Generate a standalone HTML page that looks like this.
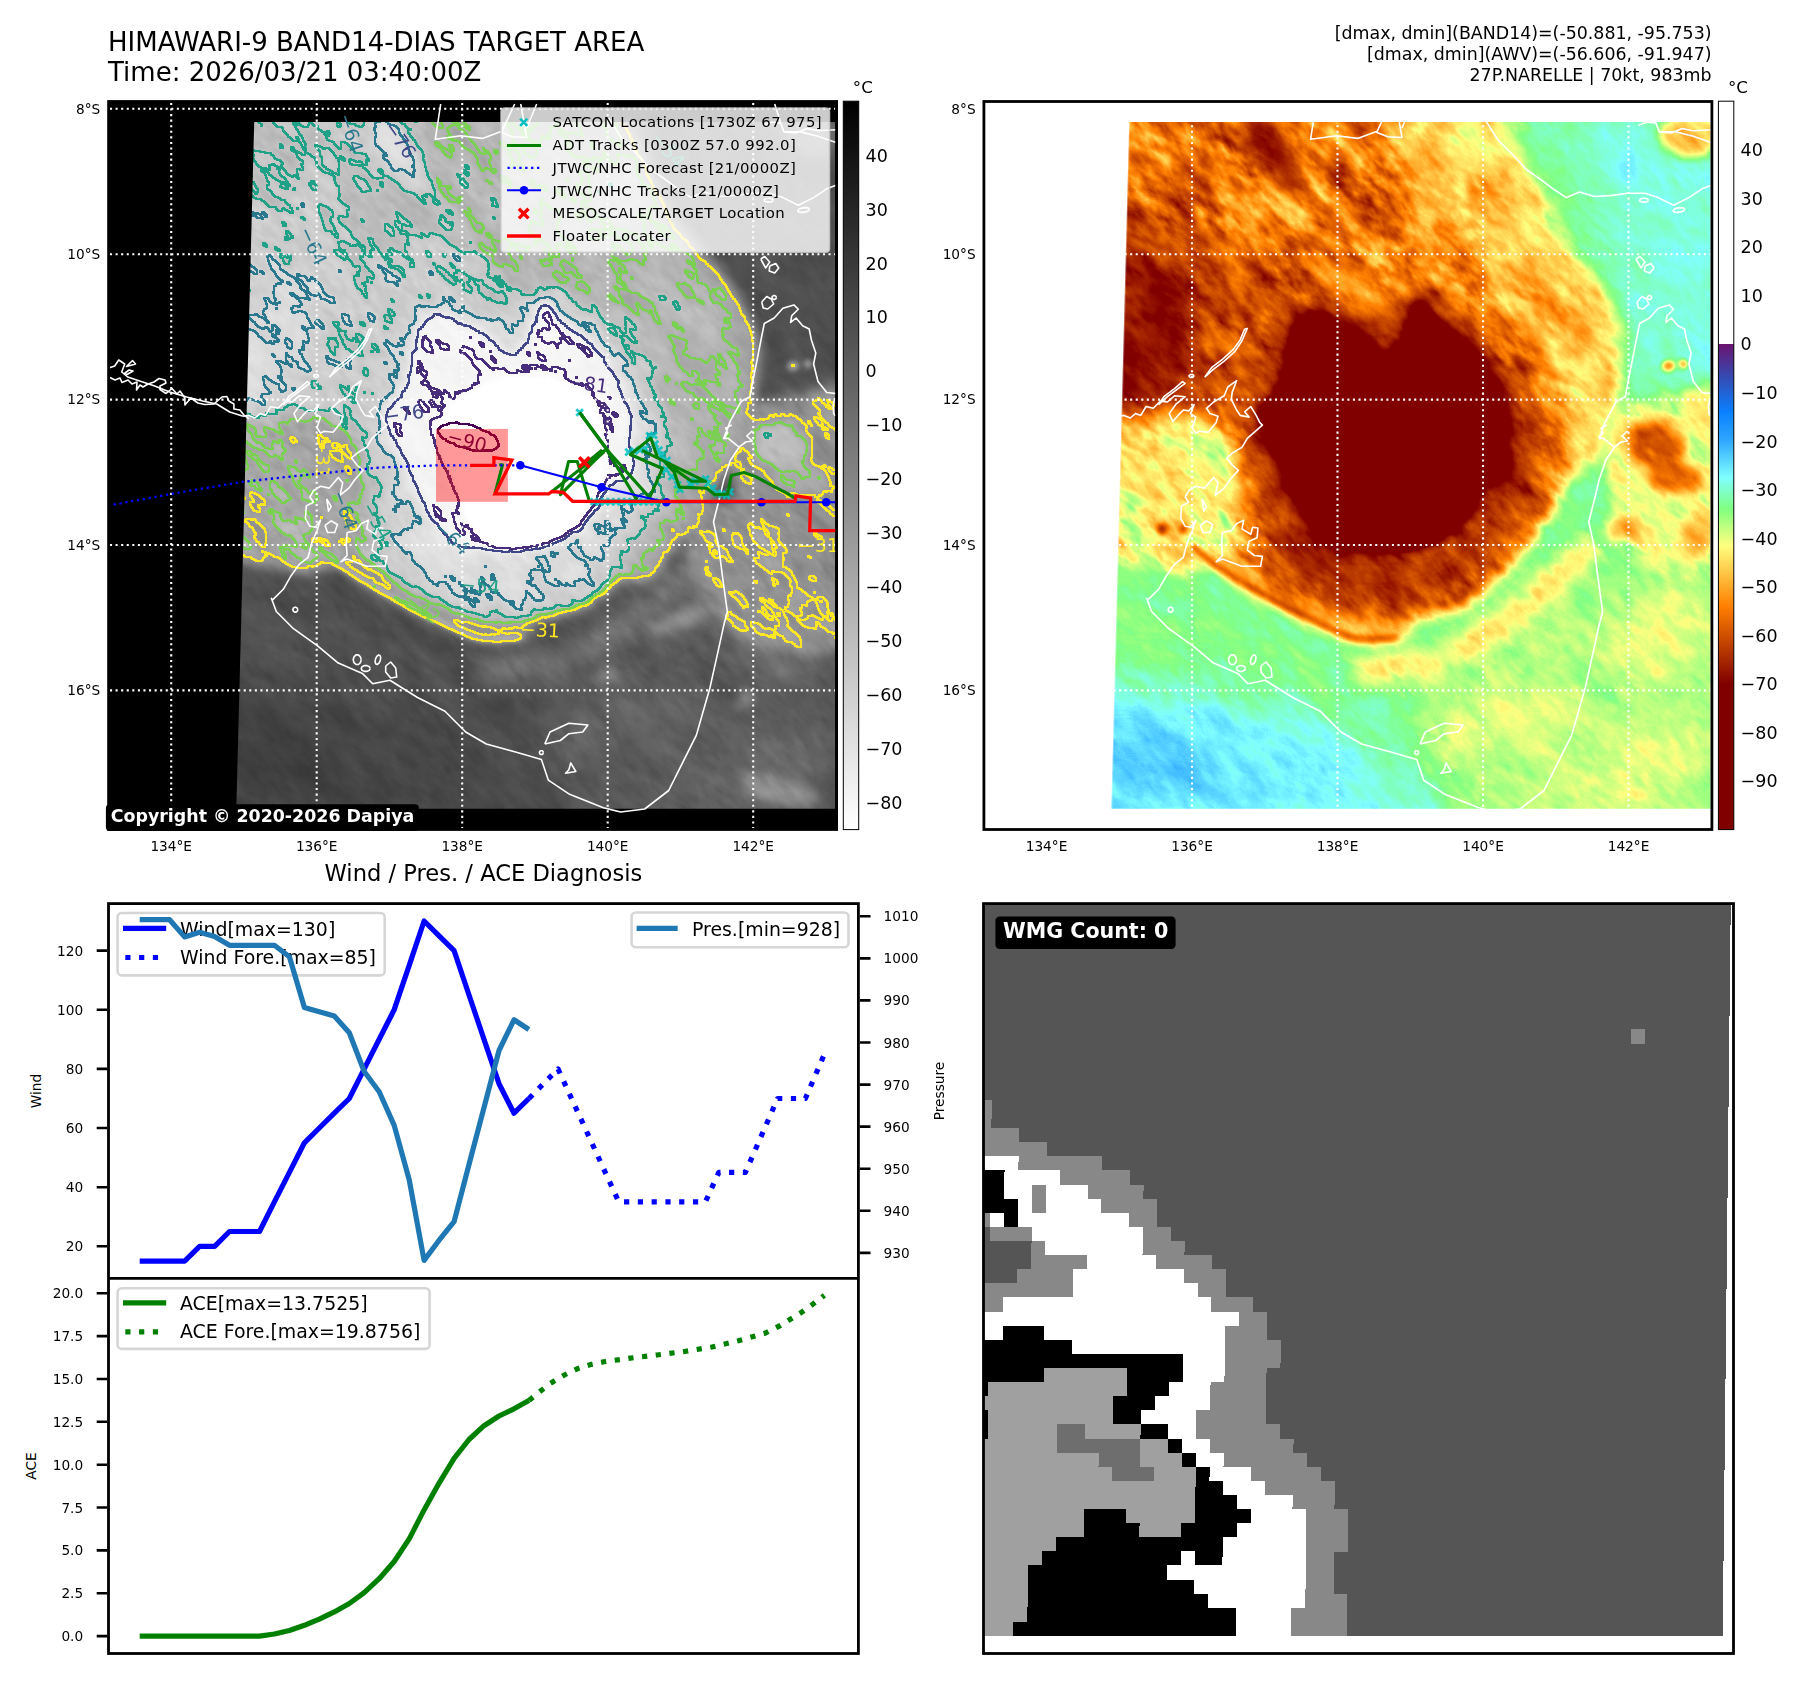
<!DOCTYPE html>
<html><head><meta charset="utf-8"><title>HIMAWARI-9 BAND14-DIAS TARGET AREA</title>
<style>html,body{margin:0;padding:0;background:#fff}svg{display:block}text{font-family:'DejaVu Sans','Liberation Sans',sans-serif}</style>
</head><body>
<svg width="1801" height="1690" viewBox="0 0 1801 1690">
<defs><filter id="blur1" x="60" y="60" width="840" height="820" filterUnits="userSpaceOnUse" color-interpolation-filters="sRGB"><feGaussianBlur stdDeviation="30"/></filter>
<filter id="blur2" x="60" y="60" width="840" height="820" filterUnits="userSpaceOnUse" color-interpolation-filters="sRGB"><feGaussianBlur stdDeviation="9"/></filter>
<filter id="blur3" x="60" y="60" width="840" height="820" filterUnits="userSpaceOnUse" color-interpolation-filters="sRGB"><feGaussianBlur stdDeviation="6"/></filter>
<filter id="blur4" x="60" y="60" width="840" height="820" filterUnits="userSpaceOnUse" color-interpolation-filters="sRGB"><feGaussianBlur stdDeviation="2.5"/></filter>
<filter id="blur5" x="60" y="60" width="840" height="820" filterUnits="userSpaceOnUse" color-interpolation-filters="sRGB"><feGaussianBlur stdDeviation="10"/></filter>
<filter id="blur6" x="60" y="60" width="840" height="820" filterUnits="userSpaceOnUse" color-interpolation-filters="sRGB"><feGaussianBlur stdDeviation="14"/></filter>
<filter id="blur7" x="60" y="60" width="840" height="820" filterUnits="userSpaceOnUse" color-interpolation-filters="sRGB"><feGaussianBlur stdDeviation="6"/></filter>
<filter id="blur8" x="60" y="60" width="840" height="820" filterUnits="userSpaceOnUse" color-interpolation-filters="sRGB"><feGaussianBlur stdDeviation="5"/></filter>
<filter id="blur9" x="60" y="60" width="840" height="820" filterUnits="userSpaceOnUse" color-interpolation-filters="sRGB"><feGaussianBlur stdDeviation="3"/></filter>
<filter id="fNoise" x="65" y="-5" width="940" height="940" filterUnits="userSpaceOnUse" color-interpolation-filters="sRGB">
<feTurbulence type="fractalNoise" baseFrequency="0.034 0.014" numOctaves="4" seed="7" result="n1"/>
<feTurbulence type="fractalNoise" baseFrequency="0.10 0.045" numOctaves="3" seed="18" result="n2"/>
<feComposite in="n1" in2="n2" operator="arithmetic" k1="0" k2="0.58" k3="0.42" k4="0" result="n"/>
<feColorMatrix in="n" type="matrix" values="1 0 0 0 0  1 0 0 0 0  1 0 0 0 0  0 0 0 0 1" result="ng"/>
<feColorMatrix in="SourceGraphic" type="matrix" values="0 1 0 0 0  0 1 0 0 0  0 1 0 0 0  0 0 0 0 1" result="amp"/>
<feColorMatrix in="SourceGraphic" type="matrix" values="1 0 0 0 0  1 0 0 0 0  1 0 0 0 0  0 0 0 0 1" result="base"/>
<feComposite in="amp" in2="ng" operator="arithmetic" k1="1" k2="0" k3="0" k4="0" result="q"/>
<feComposite in="base" in2="q" operator="arithmetic" k1="0" k2="1" k3="1" k4="0" result="F"/>
</filter>
<filter id="fIR" x="200" y="100" width="660" height="730" filterUnits="userSpaceOnUse" color-interpolation-filters="sRGB"><feComponentTransfer in="SourceGraphic" result="img"><feFuncR type="linear" slope="-0.8889" intercept="1.0741"/><feFuncG type="linear" slope="-0.8889" intercept="1.0741"/><feFuncB type="linear" slope="-0.8889" intercept="1.0741"/></feComponentTransfer>
<feColorMatrix in="SourceGraphic" type="matrix" values="0 0 0 0 0.992  0 0 0 0 0.906  0 0 0 0 0.145  -255 0 0 0 137.000" result="km31"/>
<feMorphology in="km31" operator="dilate" radius="1" result="dm31"/><feMorphology in="km31" operator="erode" radius="1" result="em31"/>
<feComposite in="dm31" in2="em31" operator="out" result="cm31"/>
<feColorMatrix in="SourceGraphic" type="matrix" values="0 0 0 0 0.478  0 0 0 0 0.820  0 0 0 0 0.318  -255 0 0 0 113.000" result="km42"/>
<feMorphology in="km42" operator="dilate" radius="1" result="dm42"/><feMorphology in="km42" operator="erode" radius="1" result="em42"/>
<feComposite in="dm42" in2="em42" operator="out" result="cm42"/>
<feColorMatrix in="SourceGraphic" type="matrix" values="0 0 0 0 0.122  0 0 0 0 0.631  0 0 0 0 0.529  -255 0 0 0 88.000" result="km54"/>
<feMorphology in="km54" operator="dilate" radius="1" result="dm54"/><feMorphology in="km54" operator="erode" radius="1" result="em54"/>
<feComposite in="dm54" in2="em54" operator="out" result="cm54"/>
<feColorMatrix in="SourceGraphic" type="matrix" values="0 0 0 0 0.165  0 0 0 0 0.471  0 0 0 0 0.557  -255 0 0 0 66.000" result="km64"/>
<feMorphology in="km64" operator="dilate" radius="1" result="dm64"/><feMorphology in="km64" operator="erode" radius="1" result="em64"/>
<feComposite in="dm64" in2="em64" operator="out" result="cm64"/>
<feColorMatrix in="SourceGraphic" type="matrix" values="0 0 0 0 0.247  0 0 0 0 0.278  0 0 0 0 0.533  -255 0 0 0 41.000" result="km76"/>
<feMorphology in="km76" operator="dilate" radius="1" result="dm76"/><feMorphology in="km76" operator="erode" radius="1" result="em76"/>
<feComposite in="dm76" in2="em76" operator="out" result="cm76"/>
<feColorMatrix in="SourceGraphic" type="matrix" values="0 0 0 0 0.278  0 0 0 0 0.176  0 0 0 0 0.482  -255 0 0 0 30.000" result="km81"/>
<feMorphology in="km81" operator="dilate" radius="1" result="dm81"/><feMorphology in="km81" operator="erode" radius="1" result="em81"/>
<feComposite in="dm81" in2="em81" operator="out" result="cm81"/>
<feColorMatrix in="SourceGraphic" type="matrix" values="0 0 0 0 0.267  0 0 0 0 0.004  0 0 0 0 0.329  -255 0 0 0 11.000" result="km90"/>
<feMorphology in="km90" operator="dilate" radius="1" result="dm90"/><feMorphology in="km90" operator="erode" radius="1" result="em90"/>
<feComposite in="dm90" in2="em90" operator="out" result="cm90"/>
<feMerge><feMergeNode in="img"/><feMergeNode in="cm31"/><feMergeNode in="cm42"/><feMergeNode in="cm54"/><feMergeNode in="cm64"/><feMergeNode in="cm76"/><feMergeNode in="cm81"/><feMergeNode in="cm90"/></feMerge></filter>
<filter id="fWV" x="200" y="100" width="660" height="730" filterUnits="userSpaceOnUse" color-interpolation-filters="sRGB"><feComponentTransfer in="SourceGraphic"><feFuncR type="table" tableValues="0.502 0.502 0.502 0.502 0.502 0.502 0.502 0.502 0.502 0.502 0.502 0.502 0.502 0.502 0.502 0.502 0.502 0.502 0.502 0.502 0.502 0.541 0.580 0.619 0.658 0.697 0.735 0.774 0.813 0.852 0.891 0.930 0.969 1.000 1.000 1.000 1.000 1.000 1.000 1.000 1.000 1.000 1.000 0.983 0.900 0.817 0.734 0.651 0.568 0.502 0.502 0.502 0.502 0.502 0.502 0.450 0.397 0.345 0.293 0.241 0.188 0.157 0.126 0.095 0.064 0.045 0.075 0.104 0.133 0.163 0.192 0.227 0.266 0.304 0.343 0.381 0.420 1.000 1.000 1.000 1.000 1.000 1.000 1.000 1.000 1.000 1.000 1.000 1.000 1.000 1.000 1.000 1.000 1.000 1.000 1.000 1.000"/><feFuncG type="table" tableValues="0.000 0.000 0.000 0.000 0.000 0.000 0.000 0.000 0.000 0.000 0.000 0.000 0.000 0.000 0.000 0.000 0.000 0.000 0.000 0.000 0.000 0.039 0.078 0.118 0.157 0.196 0.235 0.275 0.314 0.353 0.392 0.431 0.471 0.512 0.562 0.612 0.661 0.711 0.761 0.811 0.861 0.910 0.960 1.000 1.000 1.000 1.000 1.000 1.000 1.000 1.000 1.000 1.000 1.000 1.000 0.943 0.886 0.829 0.773 0.716 0.659 0.626 0.593 0.561 0.528 0.495 0.458 0.422 0.385 0.349 0.313 0.275 0.235 0.196 0.157 0.118 0.078 1.000 1.000 1.000 1.000 1.000 1.000 1.000 1.000 1.000 1.000 1.000 1.000 1.000 1.000 1.000 1.000 1.000 1.000 1.000 1.000"/><feFuncB type="table" tableValues="0.000 0.000 0.000 0.000 0.000 0.000 0.000 0.000 0.000 0.000 0.000 0.000 0.000 0.000 0.000 0.000 0.000 0.000 0.000 0.000 0.000 0.000 0.000 0.000 0.000 0.000 0.000 0.000 0.000 0.000 0.000 0.000 0.000 0.010 0.060 0.110 0.161 0.211 0.261 0.311 0.361 0.412 0.462 0.502 0.502 0.502 0.502 0.502 0.502 0.521 0.617 0.713 0.808 0.904 1.000 1.000 1.000 1.000 1.000 1.000 1.000 1.000 1.000 1.000 1.000 0.989 0.937 0.884 0.832 0.779 0.727 0.677 0.630 0.582 0.534 0.487 0.439 1.000 1.000 1.000 1.000 1.000 1.000 1.000 1.000 1.000 1.000 1.000 1.000 1.000 1.000 1.000 1.000 1.000 1.000 1.000 1.000"/></feComponentTransfer></filter>
<clipPath id="imgclip"><path d="M254.2,122.0 L835.2,122.0 L835.2,808.8 L236.3,808.8Z"/></clipPath>
<clipPath id="ax1clip"><rect x="108.6" y="101.5" width="728.0" height="728.0"/></clipPath>
<path id="coast" d="M1146.5,597.7 L1151.6,611.5 L1168.8,628.7 L1192.9,645.9 L1213.6,663.1 L1237.7,673.4 L1248.0,683.8 L1265.2,680.3 L1292.8,697.5 L1320.3,711.3 L1341.0,732.0 L1361.6,744.0 L1392.6,752.6 L1416.7,759.5 L1423.6,780.1 L1444.2,793.9 L1478.7,807.7 L1495.9,812.0 L1520.0,809.0 L1544.0,790.5 L1557.8,762.9 L1571.6,735.4 L1578.5,711.3 L1585.4,687.2 L1592.3,656.2 L1599.1,625.2 L1602.6,611.5 L1597.4,573.6 L1594.0,546.1 L1588.8,522.0 L1595.7,494.4 L1599.1,480.0 L1605.7,460.3 L1614.4,447.2 L1603.5,438.4 L1599.1,438.4 L1605.7,420.9 L1616.6,401.2 L1625.4,396.8 L1627.6,383.7 L1632.0,361.8 L1636.3,339.9 L1639.6,323.5 L1649.5,318.0 L1658.2,308.2 L1669.2,304.9 L1673.6,309.3 L1667.0,315.8 L1665.9,322.4 L1671.4,318.0 L1677.9,325.7 L1684.5,329.0 L1686.7,339.9 L1691.1,353.0 L1688.9,364.0 L1693.3,381.5 L1702.0,392.5 L1712.0,393.6 M1614.4,447.2 L1621.0,442.0 L1627.6,441.0 L1622.0,436.0 L1627.6,431.0 M1599.1,438.4 L1603.0,433.0 L1601.0,428.0 L1607.0,425.0 M1484.0,118.0 L1498.0,140.0 L1513.0,155.0 L1527.0,170.0 L1540.0,179.0 L1553.1,188.8 L1566.3,197.6 L1579.4,192.1 L1594.7,196.5 L1612.3,195.4 L1627.6,193.2 L1645.1,193.2 L1658.2,197.6 L1673.6,205.2 L1688.9,197.6 L1702.0,188.8 L1712.0,185.0 M1638.5,125.3 L1647.3,122.0 L1656.0,123.1 L1659.3,131.9 L1671.4,133.0 L1682.3,128.6 L1693.3,130.8 L1712.0,129.7 M1650.0,104.0 L1656.0,123.1 M1659.3,131.9 L1675.8,131.9 L1693.3,136.3 L1712.0,142.8 M1648.5,200.2 L1647.6,201.4 L1645.4,202.1 L1642.6,202.1 L1640.4,201.4 L1639.5,200.2 L1640.4,199.0 L1642.6,198.3 L1645.4,198.3 L1647.6,199.0 L1648.5,200.2 M1684.9,209.1 L1684.0,210.6 L1681.2,211.9 L1677.5,212.4 L1674.4,212.1 L1673.1,210.9 L1674.0,209.4 L1676.8,208.1 L1680.5,207.6 L1683.6,207.9 L1684.9,209.1 M1636.0,259.0 L1640.0,256.5 L1645.0,262.0 L1641.0,268.0 L1636.0,259.0 M1645.0,266.0 L1651.0,263.5 L1654.0,268.0 L1650.0,273.0 L1644.5,271.0 L1645.0,266.0 M1637.0,302.0 L1642.0,296.5 L1646.5,299.0 L1649.0,304.0 L1643.0,309.0 L1638.5,308.0 L1637.0,302.0 M1651.7,297.5 L1651.3,298.7 L1650.2,299.4 L1648.8,299.4 L1647.7,298.7 L1647.3,297.5 L1647.7,296.3 L1648.8,295.6 L1650.2,295.6 L1651.3,296.3 L1651.7,297.5 M1710.0,398.0 L1708.5,406.0 L1709.0,414.0 L1711.0,416.0 M1204.7,377.2 L1213.6,369.2 L1224.2,361.2 L1234.9,351.5 L1242.0,340.8 L1247.3,328.4 L1244.6,329.3 L1240.2,339.9 L1233.1,349.7 L1222.4,359.4 L1211.8,367.4 L1204.7,377.2 M1117.7,416.2 L1124.0,415.4 L1130.2,418.0 L1135.5,413.6 L1140.8,415.4 L1146.1,406.5 L1153.2,408.3 L1160.3,401.2 L1167.4,402.0 L1174.5,395.8 L1185.2,396.7 L1176.3,403.8 L1169.2,413.6 L1172.8,421.6 L1178.1,415.4 L1183.4,410.0 L1188.7,410.9 L1194.1,404.7 L1190.5,413.6 L1195.8,417.1 L1192.3,427.8 L1195.8,433.1 L1199.4,431.3 L1208.3,432.2 L1216.2,422.4 L1218.0,416.2 L1210.0,413.6 L1206.5,408.3 L1213.6,402.0 L1224.2,395.8 L1227.8,387.0 L1236.6,380.7 L1232.2,392.3 L1231.3,399.4 L1236.6,410.0 L1240.2,415.4 L1249.1,417.1 L1244.6,411.8 L1250.8,406.5 L1256.2,415.4 L1259.7,422.4 L1262.4,425.1 L1254.4,432.2 L1247.3,438.4 L1242.0,447.3 L1233.1,452.6 L1226.9,457.9 L1232.2,465.0 L1238.4,470.4 L1230.4,479.2 L1224.2,488.1 L1215.4,495.2 L1218.0,482.8 L1213.6,477.5 L1204.7,488.1 L1195.8,486.3 L1188.7,490.8 L1185.2,497.0 L1188.7,502.3 L1181.6,505.9 L1180.7,518.3 L1185.2,526.3 L1190.5,527.2 L1195.8,520.1 L1192.3,530.7 L1187.0,543.1 L1183.4,557.3 L1174.5,564.4 L1165.7,576.8 L1158.6,589.3 L1147.9,599.9 M1158.6,404.7 L1167.4,396.7 L1178.1,388.7 L1185.2,383.4 L1182.5,381.6 L1174.5,388.7 L1163.9,396.7 L1158.6,404.7 M1222.4,532.5 L1231.3,530.7 L1236.6,523.6 L1243.7,520.1 L1242.0,528.9 L1250.8,534.3 L1252.6,527.2 L1257.9,528.0 L1257.1,537.8 L1249.1,541.3 L1247.3,550.2 L1254.4,555.5 L1262.4,556.4 L1260.6,566.2 L1242.0,566.2 L1222.4,559.1 L1216.2,561.8 L1222.4,555.5 L1221.6,544.9 L1222.4,532.5 M1202.0,498.8 L1203.8,511.2 L1206.5,506.7 L1202.0,498.8 M1200.3,525.4 L1206.5,520.9 L1212.7,524.5 L1210.0,532.5 L1202.9,532.5 L1200.3,525.4 M1194.0,376.0 L1193.5,376.9 L1192.3,377.5 L1190.7,377.5 L1189.5,376.9 L1189.0,376.0 L1189.5,375.1 L1190.7,374.5 L1192.3,374.5 L1193.5,375.1 L1194.0,376.0 M1117.7,416.0 L1105.0,412.0 L1092.0,404.0 L1078.0,401.0 L1062.0,397.0 L1045.0,392.0 L1030.0,386.0 L1015.0,381.0 L1003.0,377.0 L997.0,372.0 L1000.0,364.0 L994.0,360.0 L990.0,366.0 L984.0,368.0 M1236.5,659.7 L1235.7,662.6 L1233.7,664.5 L1231.3,664.5 L1229.3,662.6 L1228.5,659.7 L1229.3,656.8 L1231.3,654.9 L1233.7,654.9 L1235.7,656.8 L1236.5,659.7 M1245.5,668.5 L1244.6,670.3 L1242.4,671.4 L1239.6,671.4 L1237.4,670.3 L1236.5,668.5 L1237.4,666.7 L1239.6,665.6 L1242.4,665.6 L1244.6,666.7 L1245.5,668.5 M1255.6,660.4 L1254.3,663.1 L1252.5,664.5 L1251.1,664.0 L1250.4,661.9 L1250.8,659.0 L1252.1,656.3 L1253.9,654.9 L1255.3,655.4 L1256.0,657.5 L1255.6,660.4 M1261.0,666.0 L1266.0,662.0 L1271.0,668.0 L1272.0,677.0 L1266.0,678.0 L1261.0,672.0 L1261.0,666.0 M1173.1,609.7 L1172.6,611.2 L1171.4,612.1 L1169.8,612.1 L1168.6,611.2 L1168.1,609.7 L1168.6,608.2 L1169.8,607.3 L1171.4,607.3 L1172.6,608.2 L1173.1,609.7 M1420.1,744.0 L1425.3,732.0 L1444.2,723.3 L1463.2,725.0 L1458.0,732.0 L1444.2,733.7 L1435.6,740.5 L1420.1,744.0 M1418.7,752.6 L1418.3,753.8 L1417.3,754.5 L1416.1,754.5 L1415.1,753.8 L1414.7,752.6 L1415.1,751.4 L1416.1,750.7 L1417.3,750.7 L1418.3,751.4 L1418.7,752.6 M1444.2,769.8 L1440.8,773.2 L1451.1,771.5 L1446.0,762.9 L1444.2,769.8 M1316.0,104.0 L1310.6,139.3 L1336.3,135.8 L1357.6,138.4 L1377.2,131.3 L1390.0,104.0 M1376.3,132.2 L1387.8,136.7 L1402.0,137.5 L1396.0,104.0 M1402.0,128.0 L1412.0,104.0" fill="none" stroke="#fff" stroke-width="1.6" stroke-linejoin="round"/>
<clipPath id="ax2clip"><rect x="983.9" y="101.5" width="728.0000000000001" height="728.0"/></clipPath>
<linearGradient id="cbGray" x1="0" y1="0" x2="0" y2="1"><stop offset="0" stop-color="#000"/><stop offset="1" stop-color="#fff"/></linearGradient>
<linearGradient id="cbCol" x1="0" y1="0" x2="0" y2="1"><stop offset="0" stop-color="#fff"/><stop offset="0.33333" stop-color="#fff"/><stop offset="0.33333" stop-color="rgb(107,20,112)"/><stop offset="0.38000" stop-color="rgb(52,76,180)"/><stop offset="0.42667" stop-color="rgb(10,128,255)"/><stop offset="0.46667" stop-color="rgb(48,168,255)"/><stop offset="0.51667" stop-color="rgb(128,255,255)"/><stop offset="0.56000" stop-color="rgb(128,255,128)"/><stop offset="0.61000" stop-color="rgb(255,255,128)"/><stop offset="0.69333" stop-color="rgb(255,128,0)"/><stop offset="0.80000" stop-color="rgb(128,0,0)"/><stop offset="1.00000" stop-color="rgb(128,0,0)"/></linearGradient>
<clipPath id="gclip"><rect x="983.5" y="903.6" width="750.0" height="749.9"/></clipPath></defs>
<rect width="1801" height="1690" fill="#fff"/>
<rect x="108.6" y="101.5" width="728.0" height="728.0" fill="#000"/>
<g clip-path="url(#imgclip)"><g filter="url(#fIR)"><g transform="rotate(-45 535 465)"><g filter="url(#fNoise)"><g transform="rotate(45 535 465)"><g>
<path d="M150.0,60.0 L900.0,60.0 L900.0,880.0 L150.0,880.0Z" fill="rgb(193,51,0)"/>
</g>
<g filter="url(#blur1)">
<ellipse cx="236.0" cy="830.0" rx="330.0" ry="130.0" fill="rgb(210,42,0)"/>
<ellipse cx="225.0" cy="815.0" rx="150.0" ry="110.0" fill="rgb(223,34,0)"/>
<ellipse cx="480.0" cy="840.0" rx="330.0" ry="60.0" fill="rgb(206,42,0)"/>
<path d="M700.0,100.0C723.3,66.7 850.0,46.7 880.0,100.0C910.0,153.3 895.0,370.0 880.0,420.0C865.0,470.0 813.3,420.0 790.0,400.0C766.7,380.0 755.0,350.0 740.0,300.0C725.0,250.0 676.7,133.3 700.0,100.0Z" fill="rgb(198,42,0)"/>
<path d="M560.0,660.0C603.3,610.0 826.7,526.7 880.0,560.0C933.3,593.3 923.3,810.0 880.0,860.0C836.7,910.0 673.3,893.3 620.0,860.0C566.7,826.7 516.7,710.0 560.0,660.0Z" fill="rgb(176,60,0)"/>
</g>
<g filter="url(#blur2)">
<path d="M490.0,672.0C498.3,670.7 524.2,667.7 540.0,664.0C555.8,660.3 570.8,656.0 585.0,650.0C599.2,644.0 612.5,636.3 625.0,628.0C637.5,619.7 649.2,609.3 660.0,600.0C670.8,590.7 682.0,580.0 690.0,572.0C698.0,564.0 705.0,555.3 708.0,552.0" fill="none" stroke="rgb(142,68,0)" stroke-width="24" stroke-linecap="round"/>
<ellipse cx="640.0" cy="720.0" rx="70.0" ry="28.0" fill="rgb(168,60,0)" transform="rotate(-10 640.0 720.0)"/>
<ellipse cx="760.0" cy="770.0" rx="60.0" ry="30.0" fill="rgb(155,68,0)" transform="rotate(-10 760.0 770.0)"/>
<ellipse cx="790.0" cy="640.0" rx="40.0" ry="50.0" fill="rgb(151,68,0)"/>
</g>
<g filter="url(#blur3)">
<path d="M200.0,90.0C266.7,35.8 532.2,84.7 600.0,90.0C667.8,95.3 601.8,110.0 607.0,122.0C612.2,134.0 623.0,149.7 631.0,162.0C639.0,174.3 647.5,182.8 655.0,196.0C662.5,209.2 667.3,228.3 676.0,241.0C684.7,253.7 697.8,259.5 707.0,272.0C716.2,284.5 725.3,302.8 731.0,316.0C736.7,329.2 739.8,339.5 741.0,351.0C742.2,362.5 740.8,373.5 738.0,385.0C735.2,396.5 728.0,408.5 724.0,420.0C720.0,431.5 716.8,447.3 714.0,454.0C711.2,460.7 711.7,453.3 707.0,460.0C702.3,466.7 692.3,483.7 686.0,494.0C679.7,504.3 675.3,512.8 669.0,522.0C662.7,531.2 655.5,540.3 648.0,549.0C640.5,557.7 632.7,565.8 624.0,574.0C615.3,582.2 605.2,591.7 596.0,598.0C586.8,604.3 579.3,608.3 569.0,612.0C558.7,615.7 547.8,618.0 534.0,620.0C520.2,622.0 500.0,625.0 486.0,624.0C472.0,623.0 460.3,617.7 450.0,614.0C439.7,610.3 432.7,606.3 424.0,602.0C415.3,597.7 406.7,593.0 398.0,588.0C389.3,583.0 380.0,577.5 372.0,572.0C364.0,566.5 356.3,560.7 350.0,555.0C343.7,549.3 334.8,547.2 334.0,538.0C333.2,528.8 347.3,516.3 345.0,500.0C342.7,483.7 330.8,453.3 320.0,440.0C309.2,426.7 292.5,424.2 280.0,420.0C267.5,415.8 258.3,415.8 245.0,415.0C231.7,414.2 207.5,469.2 200.0,415.0C192.5,360.8 133.3,144.2 200.0,90.0Z" fill="rgb(47,85,0)"/>
<path d="M322.0,540.0C325.8,543.3 336.5,553.7 345.0,560.0C353.5,566.3 364.0,572.5 373.0,578.0C382.0,583.5 390.0,588.0 399.0,593.0C408.0,598.0 418.0,603.5 427.0,608.0C436.0,612.5 444.7,616.3 453.0,620.0C461.3,623.7 469.5,627.8 477.0,630.0C484.5,632.2 490.5,632.8 498.0,633.0C505.5,633.2 518.0,631.3 522.0,631.0" fill="none" stroke="rgb(119,51,0)" stroke-width="20" stroke-linecap="round"/>
<path d="M650.0,196.0C655.0,190.3 678.0,223.7 690.0,236.0C702.0,248.3 712.3,257.0 722.0,270.0C731.7,283.0 741.7,300.5 748.0,314.0C754.3,327.5 758.5,338.3 760.0,351.0C761.5,363.7 759.5,377.7 757.0,390.0C754.5,402.3 748.7,413.7 745.0,425.0C741.3,436.3 740.5,446.2 735.0,458.0C729.5,469.8 719.0,484.5 712.0,496.0C705.0,507.5 700.0,517.0 693.0,527.0C686.0,537.0 678.0,546.8 670.0,556.0C662.0,565.2 656.7,581.3 645.0,582.0C633.3,582.7 600.8,573.7 600.0,560.0C599.2,546.3 626.7,523.3 640.0,500.0C653.3,476.7 671.7,445.0 680.0,420.0C688.3,395.0 693.3,375.0 690.0,350.0C686.7,325.0 666.7,295.7 660.0,270.0C653.3,244.3 645.0,201.7 650.0,196.0Z" fill="rgb(89,68,0)"/>
<path d="M200.0,405.0C216.7,377.5 275.8,397.5 300.0,400.0C324.2,402.5 334.7,408.3 345.0,420.0C355.3,431.7 358.7,453.3 362.0,470.0C365.3,486.7 367.8,505.0 365.0,520.0C362.2,535.0 355.8,551.3 345.0,560.0C334.2,568.7 317.5,571.7 300.0,572.0C282.5,572.3 256.7,563.2 240.0,562.0C223.3,560.8 206.7,591.2 200.0,565.0C193.3,538.8 183.3,432.5 200.0,405.0Z" fill="rgb(66,110,0)"/>
<path d="M742.0,415.0C752.8,397.5 782.0,397.5 800.0,395.0C818.0,392.5 841.7,372.5 850.0,400.0C858.3,427.5 858.3,530.8 850.0,560.0C841.7,589.2 815.0,577.5 800.0,575.0C785.0,572.5 770.8,557.5 760.0,545.0C749.2,532.5 738.0,521.7 735.0,500.0C732.0,478.3 731.2,432.5 742.0,415.0Z" fill="rgb(100,85,0)"/>
<ellipse cx="782.0" cy="445.0" rx="30.0" ry="26.0" fill="rgb(70,60,0)" transform="rotate(20 782.0 445.0)"/>
<ellipse cx="748.0" cy="528.0" rx="16.0" ry="11.0" fill="rgb(96,51,0)"/>
<ellipse cx="822.0" cy="535.0" rx="16.0" ry="22.0" fill="rgb(96,51,0)"/>
<ellipse cx="815.0" cy="135.0" rx="30.0" ry="22.0" fill="rgb(164,42,0)"/>
<ellipse cx="800.0" cy="478.0" rx="28.0" ry="14.0" fill="rgb(91,51,0)"/>
<path d="M690.0,520.0C696.7,503.3 713.3,500.0 740.0,500.0C766.7,500.0 831.7,496.7 850.0,520.0C868.3,543.3 865.0,619.2 850.0,640.0C835.0,660.8 785.0,651.7 760.0,645.0C735.0,638.3 711.7,620.8 700.0,600.0C688.3,579.2 683.3,536.7 690.0,520.0Z" fill="rgb(91,102,0)"/>
<ellipse cx="605.0" cy="676.0" rx="12.0" ry="6.0" fill="rgb(117,42,0)"/>
<ellipse cx="680.0" cy="620.0" rx="35.0" ry="9.0" fill="rgb(113,60,0)" transform="rotate(-20 680.0 620.0)"/>
<ellipse cx="780.0" cy="790.0" rx="40.0" ry="13.0" fill="rgb(108,68,0)" transform="rotate(15 780.0 790.0)"/>
<ellipse cx="745.0" cy="700.0" rx="8.0" ry="8.0" fill="rgb(121,34,0)"/>
</g>
<g filter="url(#blur4)">
<path d="M318.0,547.0C321.7,550.0 331.5,559.0 340.0,565.0C348.5,571.0 359.8,577.5 369.0,583.0C378.2,588.5 386.0,593.0 395.0,598.0C404.0,603.0 413.8,608.3 423.0,613.0C432.2,617.7 441.5,622.2 450.0,626.0C458.5,629.8 466.3,633.8 474.0,636.0C481.7,638.2 488.3,638.8 496.0,639.0C503.7,639.2 516.0,637.3 520.0,637.0" fill="none" stroke="rgb(81,42,0)" stroke-width="6" stroke-linecap="round"/>
<ellipse cx="793.0" cy="366.0" rx="6.0" ry="5.0" fill="rgb(108,26,0)"/>
<ellipse cx="808.0" cy="364.0" rx="4.0" ry="4.0" fill="rgb(113,26,0)"/>
<ellipse cx="287.0" cy="529.0" rx="5.0" ry="6.0" fill="rgb(83,26,0)"/>
<ellipse cx="308.0" cy="529.0" rx="4.0" ry="5.0" fill="rgb(87,26,0)"/>
</g>
<g filter="url(#blur5)">
<path d="M200.0,230.0C221.7,200.0 293.3,213.3 330.0,225.0C366.7,236.7 407.5,270.8 420.0,300.0C432.5,329.2 420.0,381.7 405.0,400.0C390.0,418.3 364.2,409.2 330.0,410.0C295.8,410.8 221.7,435.0 200.0,405.0C178.3,375.0 178.3,260.0 200.0,230.0Z" fill="rgb(34,85,0)"/>
<path d="M520.0,110.0C531.2,95.0 587.0,100.0 607.0,110.0C627.0,120.0 628.5,148.2 640.0,170.0C651.5,191.8 660.2,214.3 676.0,241.0C691.8,267.7 725.2,303.5 735.0,330.0C744.8,356.5 742.5,385.0 735.0,400.0C727.5,415.0 705.8,431.7 690.0,420.0C674.2,408.3 656.7,358.3 640.0,330.0C623.3,301.7 606.7,271.7 590.0,250.0C573.3,228.3 551.7,223.3 540.0,200.0C528.3,176.7 508.8,125.0 520.0,110.0Z" fill="rgb(72,68,0)"/>
<path d="M430.0,105.0C457.8,92.5 566.0,82.3 607.0,105.0C648.0,127.7 654.7,203.5 676.0,241.0C697.3,278.5 725.2,303.5 735.0,330.0C744.8,356.5 742.5,385.0 735.0,400.0C727.5,415.0 705.8,431.7 690.0,420.0C674.2,408.3 655.0,350.0 640.0,330.0C625.0,310.0 616.7,305.0 600.0,300.0C583.3,295.0 560.0,308.3 540.0,300.0C520.0,291.7 496.7,270.0 480.0,250.0C463.3,230.0 448.3,204.2 440.0,180.0C431.7,155.8 402.2,117.5 430.0,105.0Z" fill="rgb(64,85,0)"/>
<path d="M640.0,330.0C653.3,311.7 718.3,320.8 735.0,330.0C751.7,339.2 743.3,364.2 740.0,385.0C736.7,405.8 723.3,436.8 715.0,455.0C706.7,473.2 700.8,478.3 690.0,494.0C679.2,509.7 661.3,535.5 650.0,549.0C638.7,562.5 630.3,573.5 622.0,575.0C613.7,576.5 597.0,570.5 600.0,558.0C603.0,545.5 630.8,519.7 640.0,500.0C649.2,480.3 655.0,468.3 655.0,440.0C655.0,411.7 626.7,348.3 640.0,330.0Z" fill="rgb(74,68,0)"/>
<ellipse cx="262.0" cy="350.0" rx="38.0" ry="60.0" fill="rgb(36,51,0)"/>
<ellipse cx="396.0" cy="150.0" rx="14.0" ry="45.0" fill="rgb(32,26,0)" transform="rotate(-35 396.0 150.0)"/>
<ellipse cx="586.0" cy="158.0" rx="16.0" ry="30.0" fill="rgb(91,51,0)" transform="rotate(-25 586.0 158.0)"/>
</g>
<g filter="url(#blur6)">
<path d="M380.0,440.0C378.8,421.7 380.0,400.0 385.0,380.0C390.0,360.0 400.0,334.7 410.0,320.0C420.0,305.3 430.0,293.3 445.0,292.0C460.0,290.7 484.2,312.7 500.0,312.0C515.8,311.3 525.8,287.5 540.0,288.0C554.2,288.5 570.8,303.8 585.0,315.0C599.2,326.2 613.8,340.8 625.0,355.0C636.2,369.2 645.3,384.2 652.0,400.0C658.7,415.8 664.5,433.3 665.0,450.0C665.5,466.7 660.5,484.2 655.0,500.0C649.5,515.8 641.7,531.7 632.0,545.0C622.3,558.3 610.7,570.3 597.0,580.0C583.3,589.7 567.8,597.7 550.0,603.0C532.2,608.3 508.3,612.5 490.0,612.0C471.7,611.5 454.2,606.2 440.0,600.0C425.8,593.8 414.2,585.8 405.0,575.0C395.8,564.2 387.2,549.2 385.0,535.0C382.8,520.8 392.8,505.8 392.0,490.0C391.2,474.2 381.2,458.3 380.0,440.0Z" fill="rgb(36,51,0)"/>
</g>
<g filter="url(#blur7)">
<path d="M390.0,440.0C387.2,434.2 381.7,425.7 381.0,420.0C380.3,414.3 382.2,411.8 386.0,406.0C389.8,400.2 399.8,394.2 404.0,385.0C408.2,375.8 407.7,362.3 411.0,351.0C414.3,339.7 418.3,323.8 424.0,317.0C429.7,310.2 438.0,309.0 445.0,310.0C452.0,311.0 459.2,319.0 466.0,323.0C472.8,327.0 478.7,329.3 486.0,334.0C493.3,338.7 503.0,350.5 510.0,351.0C517.0,351.5 523.3,345.0 528.0,337.0C532.7,329.0 534.0,308.7 538.0,303.0C542.0,297.3 548.0,299.7 552.0,303.0C556.0,306.3 556.8,317.3 562.0,323.0C567.2,328.7 576.2,331.8 583.0,337.0C589.8,342.2 596.7,347.2 603.0,354.0C609.3,360.8 616.3,369.8 621.0,378.0C625.7,386.2 628.8,394.8 631.0,403.0C633.2,411.2 633.7,419.7 634.0,427.0C634.3,434.3 632.3,441.2 633.0,447.0C633.7,452.8 638.8,456.8 638.0,462.0C637.2,467.2 633.2,473.3 628.0,478.0C622.8,482.7 612.8,483.8 607.0,490.0C601.2,496.2 599.3,507.2 593.0,515.0C586.7,522.8 578.8,531.3 569.0,537.0C559.2,542.7 547.2,546.5 534.0,549.0C520.8,551.5 501.8,552.2 490.0,552.0C478.2,551.8 471.3,551.3 463.0,548.0C454.7,544.7 446.3,538.0 440.0,532.0C433.7,526.0 429.5,519.0 425.0,512.0C420.5,505.0 416.3,497.0 413.0,490.0C409.7,483.0 407.5,475.8 405.0,470.0C402.5,464.2 400.5,460.0 398.0,455.0C395.5,450.0 392.8,445.8 390.0,440.0Z" fill="rgb(21,21,0)"/>
</g>
<g filter="url(#blur8)">
<path d="M445.0,420.0C449.3,410.7 453.5,401.2 466.0,394.0C478.5,386.8 503.3,378.8 520.0,377.0C536.7,375.2 553.2,377.2 566.0,383.0C578.8,388.8 591.0,397.5 597.0,412.0C603.0,426.5 604.8,452.0 602.0,470.0C599.2,488.0 590.3,507.5 580.0,520.0C569.7,532.5 554.2,540.8 540.0,545.0C525.8,549.2 507.0,549.2 495.0,545.0C483.0,540.8 474.7,530.8 468.0,520.0C461.3,509.2 459.7,491.7 455.0,480.0C450.3,468.3 441.7,460.0 440.0,450.0C438.3,440.0 440.7,429.3 445.0,420.0Z" fill="rgb(13,7,0)"/>
</g>
<g filter="url(#blur9)">
<ellipse cx="467.0" cy="437.0" rx="33.0" ry="11.0" fill="rgb(0,8,0)" transform="rotate(14 467.0 437.0)"/>
</g></g></g></g></g></g>
<g clip-path="url(#ax1clip)">
<use href="#coast" transform="translate(-875.3 0)"/>
<path d="M110.0,377.5 L115.0,380.0 L120.0,378.0 L122.0,382.5 L128.0,380.0 L132.0,384.0 L137.0,382.0 L136.5,390.0 L140.0,385.0 L143.0,387.0 L148.0,384.0 L154.0,382.0 L159.0,378.5 L165.0,380.0 L166.0,383.0 L160.0,386.0 L160.0,389.5 L166.0,393.5 L172.0,388.5 L177.0,394.0 L180.0,391.0 L184.9,398.0 L184.9,405.0 L190.9,398.0 L197.9,403.0 L204.9,404.5 L213.9,404.0 L221.9,397.0 L226.9,396.5 L228.9,401.0 L233.9,404.0 L233.9,409.0 L239.9,410.0 L243.9,415.0 L248.9,419.0 M126.5,366.5 L132.5,360.5 L135.5,364 Z M124.5,373.5 L129,370 L133,371 L127,374.5 Z" fill="none" stroke="#fff" stroke-width="1.6" stroke-linejoin="round"/>
<text x="467.0" y="441.0" font-size="19.0" text-anchor="middle" fill="#440154" transform="rotate(15 467.0 441.0)" dy="6.5">−90</text>
<text x="588.0" y="384.0" font-size="19.0" text-anchor="middle" fill="#472d7b" transform="rotate(8 588.0 384.0)" dy="6.5">−81</text>
<text x="404.0" y="414.0" font-size="19.0" text-anchor="middle" fill="#3f4788" transform="rotate(-8 404.0 414.0)" dy="6.5">−76</text>
<text x="400.0" y="140.0" font-size="19.0" text-anchor="middle" fill="#3f4788" transform="rotate(55 400.0 140.0)" dy="6.5">−76</text>
<text x="351.0" y="133.0" font-size="19.0" text-anchor="middle" fill="#2a788e" transform="rotate(72 351.0 133.0)" dy="6.5">−64</text>
<text x="452.0" y="538.0" font-size="19.0" text-anchor="middle" fill="#2a788e" transform="rotate(42 452.0 538.0)" dy="6.5">−64</text>
<text x="313.0" y="246.0" font-size="19.0" text-anchor="middle" fill="#2a788e" transform="rotate(65 313.0 246.0)" dy="6.5">−64</text>
<text x="480.0" y="586.0" font-size="19.0" text-anchor="middle" fill="#1fa187" transform="rotate(5 480.0 586.0)" dy="6.5">−54</text>
<text x="377.0" y="521.0" font-size="19.0" text-anchor="middle" fill="#1fa187" transform="rotate(60 377.0 521.0)" dy="6.5">−54</text>
<text x="422.0" y="608.0" font-size="19.0" text-anchor="middle" fill="#7ad151" transform="rotate(35 422.0 608.0)" dy="6.5">−42</text>
<text x="540.0" y="630.0" font-size="19.0" text-anchor="middle" fill="#fde725" transform="rotate(3 540.0 630.0)" dy="6.5">−31</text>
<text x="819.0" y="545.0" font-size="19.0" text-anchor="middle" fill="#fde725" transform="rotate(0 819.0 545.0)" dy="6.5">−31</text>
<text x="322.0" y="458.0" font-size="19.0" text-anchor="middle" fill="#fde725" transform="rotate(90 322.0 458.0)" dy="6.5">−31</text>
<text x="668.0" y="150.0" font-size="19.0" text-anchor="middle" fill="#1fa187" transform="rotate(50 668.0 150.0)" dy="6.5">−54</text>
<text x="345.0" y="510.0" font-size="19.0" text-anchor="middle" fill="#2a788e" transform="rotate(70 345.0 510.0)" dy="6.5">−64</text>
<path d="M171.2,102.9V828.1 M316.7,102.9V828.1 M462.2,102.9V828.1 M607.7,102.9V828.1 M753.2,102.9V828.1 M110.0,108.8H835.2 M110.0,254.2H835.2 M110.0,399.6H835.2 M110.0,545.0H835.2 M110.0,690.4H835.2" fill="none" stroke="#fff" stroke-width="2.1" stroke-dasharray="2.1 3.47"/>
<rect x="436.0" y="428.9" width="71.9" height="72.9" fill="#ff0000" fill-opacity="0.4"/>
<path d="M576.3,409.2l6.6,6.6M576.3,415.8l6.6,-6.6 M625.3,448.8l6.6,6.6M625.3,455.4l6.6,-6.6 M641.7,445.3l6.6,6.6M641.7,451.9l6.6,-6.6 M646.3,432.5l6.6,6.6M646.3,439.1l6.6,-6.6 M650.4,431.9l6.6,6.6M650.4,438.5l6.6,-6.6 M658.0,452.3l6.6,6.6M658.0,458.9l6.6,-6.6 M663.8,457.0l6.6,6.6M663.8,463.6l6.6,-6.6 M662.7,466.3l6.6,6.6M662.7,472.9l6.6,-6.6 M668.5,473.3l6.6,6.6M668.5,479.9l6.6,-6.6 M674.3,481.5l6.6,6.6M674.3,488.1l6.6,-6.6 M676.7,486.2l6.6,6.6M676.7,492.8l6.6,-6.6 M687.1,480.3l6.6,6.6M687.1,486.9l6.6,-6.6 M691.8,478.0l6.6,6.6M691.8,484.6l6.6,-6.6 M702.3,475.7l6.6,6.6M702.3,482.3l6.6,-6.6 M704.6,480.3l6.6,6.6M704.6,486.9l6.6,-6.6 M709.3,485.0l6.6,6.6M709.3,491.6l6.6,-6.6 M713.9,489.7l6.6,6.6M713.9,496.3l6.6,-6.6 M718.6,490.8l6.6,6.6M718.6,497.4l6.6,-6.6 M723.3,492.0l6.6,6.6M723.3,498.6l6.6,-6.6 M726.7,488.5l6.6,6.6M726.7,495.1l6.6,-6.6 M651.7,440.7l6.6,6.6M651.7,447.3l6.6,-6.6 M655.7,446.7l6.6,6.6M655.7,453.3l6.6,-6.6 M636.7,446.7l6.6,6.6M636.7,453.3l6.6,-6.6 M630.7,447.7l6.6,6.6M630.7,454.3l6.6,-6.6 M590.7,498.4l6.6,6.6M590.7,505.0l6.6,-6.6 M596.2,498.4l6.6,6.6M596.2,505.0l6.6,-6.6 M601.7,498.4l6.6,6.6M601.7,505.0l6.6,-6.6 M607.2,498.4l6.6,6.6M607.2,505.0l6.6,-6.6 M612.7,498.4l6.6,6.6M612.7,505.0l6.6,-6.6 M618.2,498.4l6.6,6.6M618.2,505.0l6.6,-6.6 M623.7,498.4l6.6,6.6M623.7,505.0l6.6,-6.6 M629.2,498.4l6.6,6.6M629.2,505.0l6.6,-6.6 M634.7,498.4l6.6,6.6M634.7,505.0l6.6,-6.6 M640.2,498.4l6.6,6.6M640.2,505.0l6.6,-6.6 M645.7,498.4l6.6,6.6M645.7,505.0l6.6,-6.6 M651.2,498.4l6.6,6.6M651.2,505.0l6.6,-6.6" stroke="#00bfbf" stroke-opacity="0.85" stroke-width="2.8" fill="none"/>
<path d="M579.6,412.5 L605.3,447.5 L636.8,499.9" fill="none" stroke="#008000" stroke-width="3.1" stroke-linejoin="round"/>
<path d="M579.6,412.5 L610.0,453.3 L649.6,497.6 L662.4,468.5 L630.4,454.5 L650.8,438.1 L657.8,458.5" fill="none" stroke="#008000" stroke-width="3.1" stroke-linejoin="round"/>
<path d="M642.0,450.4 L705.6,481.3 L691.6,481.3 L665.9,463.2 L674.1,472.0 L679.3,487.1 L706.7,488.3 L714.9,494.7 L727.7,494.1 L731.2,475.5 L744.1,472.5 L755.6,476.6 L781.3,490.4 L785.0,492.2 L796.0,498.6" fill="none" stroke="#008000" stroke-width="3.1" stroke-linejoin="round"/>
<path d="M603.0,451.0 L551.7,491.8" fill="none" stroke="#008000" stroke-width="3.1" stroke-linejoin="round"/>
<path d="M605.3,449.8 L560.4,494.7 L568.6,461.5 L577.3,461.5 L589.0,499.9" fill="none" stroke="#008000" stroke-width="3.1" stroke-linejoin="round"/>
<path d="M603.0,451.0 L585.5,465.5" fill="none" stroke="#008000" stroke-width="6" stroke-linejoin="round"/>
<path d="M499.1,464.7 L502.6,464.7 L495.0,493.3" fill="none" stroke="#008000" stroke-width="3.1" stroke-linejoin="round"/>
<path d="M520.3,465.3 L601.6,487.2 L666.3,502.3 L838,502.3" fill="none" stroke="#0000ff" stroke-width="2.1"/>
<path d="M520.3,465.3 L440,465.3 L380,467.5 L316.5,473.8 L242.6,481.8 L174,493.4 L109.2,505.5" fill="none" stroke="#0000ff" stroke-width="2.3" stroke-dasharray="2.3 3.6"/>
<circle cx="520.3" cy="465.3" r="4.3" fill="#0000ff"/>
<circle cx="601.6" cy="487.2" r="4.3" fill="#0000ff"/>
<circle cx="666.3" cy="502.3" r="4.3" fill="#0000ff"/>
<circle cx="761.5" cy="502.3" r="4.3" fill="#0000ff"/>
<circle cx="826.2" cy="502.3" r="4.3" fill="#0000ff"/>
<path d="M470,465.3 L493.9,465.3 L493.9,457.7 L511.9,460.1 L495,493.9 L548.7,493.9 L552,491.5 L563.3,492.4 L572.6,501.3 L795,501.4 L796,495.9 L810.6,498.2 L809.7,530.7 L838,530.7" fill="none" stroke="#ff0000" stroke-width="3.3" stroke-linejoin="miter"/>
<path d="M579.1,457.2l10.4,10.4M579.1,467.6l10.4,-10.4" stroke="#ff0000" stroke-width="3.6" fill="none"/>
</g>
<rect x="501.0" y="108.0" width="328.5" height="144.3" rx="3.5" fill="#fff" fill-opacity="0.8" stroke="#ccc" stroke-opacity="0.8" stroke-width="1.6"/>
<text x="552.6" y="127.2" font-size="14.9" text-anchor="start" letter-spacing="0.4">SATCON Locations [1730Z 67 975]</text>
<text x="552.6" y="150.2" font-size="14.9" text-anchor="start" letter-spacing="0.4">ADT Tracks [0300Z 57.0 992.0]</text>
<text x="552.6" y="172.9" font-size="14.9" text-anchor="start" letter-spacing="0.4">JTWC/NHC Forecast [21/0000Z]</text>
<text x="552.6" y="195.6" font-size="14.9" text-anchor="start" letter-spacing="0.4">JTWC/NHC Tracks [21/0000Z]</text>
<text x="552.6" y="218.4" font-size="14.9" text-anchor="start" letter-spacing="0.4">MESOSCALE/TARGET Location</text>
<text x="552.6" y="241.0" font-size="14.9" text-anchor="start" letter-spacing="0.4">Floater Locater</text>
<path d="M520.1,118.60000000000001l7.2,7.2M520.1,125.8l7.2,-7.2" stroke="#00bfbf" stroke-width="2.6" fill="none"/>
<path d="M507,145.5H541" stroke="#008000" stroke-width="3.1"/>
<path d="M507.5,167.8H541" stroke="#0000ff" stroke-width="2.3" stroke-dasharray="2.3 3.6"/>
<path d="M507,190.3H541" stroke="#0000ff" stroke-width="2.1"/><circle cx="524" cy="190.3" r="4.3" fill="#0000ff"/>
<path d="M518.9000000000001,208.79999999999998l9.6,9.6M518.9000000000001,218.4l9.6,-9.6" stroke="#ff0000" stroke-width="3.4" fill="none"/>
<path d="M507,236H541" stroke="#ff0000" stroke-width="3.3"/>
<rect x="105.9" y="804.2" width="313" height="26.8" rx="4" fill="#000"/>
<text x="110.8" y="821.6" font-size="17.4" text-anchor="start" font-weight="bold" fill="#fff">Copyright © 2020-2026 Dapiya</text>
<rect x="108.6" y="101.5" width="728.0" height="728.0" fill="none" stroke="#000" stroke-width="2.8"/>
<rect x="983.9" y="101.5" width="728.0000000000001" height="728.0" fill="#fff"/>
<g transform="translate(875.3 0)"><g clip-path="url(#imgclip)"><g filter="url(#fWV)"><g transform="rotate(-45 535 465)"><g filter="url(#fNoise)"><g transform="rotate(45 535 465)"><g>
<path d="M150.0,60.0 L900.0,60.0 L900.0,880.0 L150.0,880.0Z" fill="rgb(117,26,0)"/>
</g>
<g filter="url(#blur1)">
<ellipse cx="236.0" cy="830.0" rx="330.0" ry="130.0" fill="rgb(136,26,0)"/>
<ellipse cx="225.0" cy="815.0" rx="150.0" ry="110.0" fill="rgb(142,26,0)"/>
<ellipse cx="480.0" cy="840.0" rx="330.0" ry="60.0" fill="rgb(130,26,0)"/>
<path d="M700.0,100.0C723.3,66.7 850.0,46.7 880.0,100.0C910.0,153.3 895.0,370.0 880.0,420.0C865.0,470.0 813.3,420.0 790.0,400.0C766.7,380.0 755.0,350.0 740.0,300.0C725.0,250.0 676.7,133.3 700.0,100.0Z" fill="rgb(130,21,0)"/>
<path d="M560.0,660.0C603.3,610.0 826.7,526.7 880.0,560.0C933.3,593.3 923.3,810.0 880.0,860.0C836.7,910.0 673.3,893.3 620.0,860.0C566.7,826.7 516.7,710.0 560.0,660.0Z" fill="rgb(107,30,0)"/>
</g>
<g filter="url(#blur2)">
<path d="M490.0,672.0C498.3,670.7 524.2,667.7 540.0,664.0C555.8,660.3 570.8,656.0 585.0,650.0C599.2,644.0 612.5,636.3 625.0,628.0C637.5,619.7 649.2,609.3 660.0,600.0C670.8,590.7 682.0,580.0 690.0,572.0C698.0,564.0 705.0,555.3 708.0,552.0" fill="none" stroke="rgb(85,42,0)" stroke-width="24" stroke-linecap="round"/>
<ellipse cx="640.0" cy="720.0" rx="70.0" ry="28.0" fill="rgb(104,26,0)" transform="rotate(-10 640.0 720.0)"/>
<ellipse cx="760.0" cy="770.0" rx="60.0" ry="30.0" fill="rgb(98,34,0)" transform="rotate(-10 760.0 770.0)"/>
<ellipse cx="790.0" cy="640.0" rx="40.0" ry="50.0" fill="rgb(100,34,0)"/>
</g>
<g filter="url(#blur3)">
<path d="M200.0,90.0C266.7,35.8 532.2,84.7 600.0,90.0C667.8,95.3 601.8,110.0 607.0,122.0C612.2,134.0 623.0,149.7 631.0,162.0C639.0,174.3 647.5,182.8 655.0,196.0C662.5,209.2 667.3,228.3 676.0,241.0C684.7,253.7 697.8,259.5 707.0,272.0C716.2,284.5 725.3,302.8 731.0,316.0C736.7,329.2 739.8,339.5 741.0,351.0C742.2,362.5 740.8,373.5 738.0,385.0C735.2,396.5 728.0,408.5 724.0,420.0C720.0,431.5 716.8,447.3 714.0,454.0C711.2,460.7 711.7,453.3 707.0,460.0C702.3,466.7 692.3,483.7 686.0,494.0C679.7,504.3 675.3,512.8 669.0,522.0C662.7,531.2 655.5,540.3 648.0,549.0C640.5,557.7 632.7,565.8 624.0,574.0C615.3,582.2 605.2,591.7 596.0,598.0C586.8,604.3 579.3,608.3 569.0,612.0C558.7,615.7 547.8,618.0 534.0,620.0C520.2,622.0 500.0,625.0 486.0,624.0C472.0,623.0 460.3,617.7 450.0,614.0C439.7,610.3 432.7,606.3 424.0,602.0C415.3,597.7 406.7,593.0 398.0,588.0C389.3,583.0 380.0,577.5 372.0,572.0C364.0,566.5 356.3,560.7 350.0,555.0C343.7,549.3 334.8,547.2 334.0,538.0C333.2,528.8 347.3,516.3 345.0,500.0C342.7,483.7 330.8,453.3 320.0,440.0C309.2,426.7 292.5,424.2 280.0,420.0C267.5,415.8 258.3,415.8 245.0,415.0C231.7,414.2 207.5,469.2 200.0,415.0C192.5,360.8 133.3,144.2 200.0,90.0Z" fill="rgb(34,102,0)"/>
<path d="M322.0,540.0C325.8,543.3 336.5,553.7 345.0,560.0C353.5,566.3 364.0,572.5 373.0,578.0C382.0,583.5 390.0,588.0 399.0,593.0C408.0,598.0 418.0,603.5 427.0,608.0C436.0,612.5 444.7,616.3 453.0,620.0C461.3,623.7 469.5,627.8 477.0,630.0C484.5,632.2 490.5,632.8 498.0,633.0C505.5,633.2 518.0,631.3 522.0,631.0" fill="none" stroke="rgb(70,51,0)" stroke-width="20" stroke-linecap="round"/>
<path d="M200.0,405.0C216.7,377.5 275.8,397.5 300.0,400.0C324.2,402.5 334.7,408.3 345.0,420.0C355.3,431.7 358.7,453.3 362.0,470.0C365.3,486.7 367.8,505.0 365.0,520.0C362.2,535.0 355.8,551.3 345.0,560.0C334.2,568.7 317.5,571.7 300.0,572.0C282.5,572.3 256.7,563.2 240.0,562.0C223.3,560.8 206.7,591.2 200.0,565.0C193.3,538.8 183.3,432.5 200.0,405.0Z" fill="rgb(77,68,0)"/>
<path d="M742.0,415.0C752.8,397.5 782.0,397.5 800.0,395.0C818.0,392.5 841.7,372.5 850.0,400.0C858.3,427.5 858.3,530.8 850.0,560.0C841.7,589.2 815.0,577.5 800.0,575.0C785.0,572.5 770.8,557.5 760.0,545.0C749.2,532.5 738.0,521.7 735.0,500.0C732.0,478.3 731.2,432.5 742.0,415.0Z" fill="rgb(89,51,0)"/>
<ellipse cx="782.0" cy="445.0" rx="30.0" ry="26.0" fill="rgb(55,51,0)" transform="rotate(20 782.0 445.0)"/>
<ellipse cx="748.0" cy="528.0" rx="16.0" ry="11.0" fill="rgb(70,42,0)"/>
<ellipse cx="822.0" cy="535.0" rx="16.0" ry="22.0" fill="rgb(74,42,0)"/>
<ellipse cx="815.0" cy="135.0" rx="30.0" ry="22.0" fill="rgb(81,42,0)"/>
<ellipse cx="800.0" cy="478.0" rx="28.0" ry="14.0" fill="rgb(62,42,0)"/>
</g>
<g filter="url(#blur4)">
<path d="M318.0,547.0C321.7,550.0 331.5,559.0 340.0,565.0C348.5,571.0 359.8,577.5 369.0,583.0C378.2,588.5 386.0,593.0 395.0,598.0C404.0,603.0 413.8,608.3 423.0,613.0C432.2,617.7 441.5,622.2 450.0,626.0C458.5,629.8 466.3,633.8 474.0,636.0C481.7,638.2 488.3,638.8 496.0,639.0C503.7,639.2 516.0,637.3 520.0,637.0" fill="none" stroke="rgb(55,34,0)" stroke-width="6" stroke-linecap="round"/>
<ellipse cx="793.0" cy="366.0" rx="6.0" ry="5.0" fill="rgb(70,26,0)"/>
<ellipse cx="808.0" cy="364.0" rx="4.0" ry="4.0" fill="rgb(72,26,0)"/>
<ellipse cx="287.0" cy="529.0" rx="5.0" ry="6.0" fill="rgb(53,26,0)"/>
<ellipse cx="308.0" cy="529.0" rx="4.0" ry="5.0" fill="rgb(57,26,0)"/>
</g>
<g filter="url(#blur5)">
<path d="M200.0,230.0C221.7,200.0 293.3,213.3 330.0,225.0C366.7,236.7 407.5,270.8 420.0,300.0C432.5,329.2 420.0,381.7 405.0,400.0C390.0,418.3 364.2,409.2 330.0,410.0C295.8,410.8 221.7,435.0 200.0,405.0C178.3,375.0 178.3,260.0 200.0,230.0Z" fill="rgb(34,76,0)"/>
<path d="M200.0,250.0C215.0,227.5 270.8,246.7 290.0,260.0C309.2,273.3 312.5,307.5 315.0,330.0C317.5,352.5 324.2,384.2 305.0,395.0C285.8,405.8 217.5,419.2 200.0,395.0C182.5,370.8 185.0,272.5 200.0,250.0Z" fill="rgb(36,51,0)"/>
<path d="M520.0,110.0C531.2,95.0 587.0,100.0 607.0,110.0C627.0,120.0 628.5,148.2 640.0,170.0C651.5,191.8 660.2,214.3 676.0,241.0C691.8,267.7 725.2,303.5 735.0,330.0C744.8,356.5 742.5,385.0 735.0,400.0C727.5,415.0 705.8,431.7 690.0,420.0C674.2,408.3 656.7,358.3 640.0,330.0C623.3,301.7 606.7,271.7 590.0,250.0C573.3,228.3 551.7,223.3 540.0,200.0C528.3,176.7 508.8,125.0 520.0,110.0Z" fill="rgb(66,68,0)"/>
<ellipse cx="262.0" cy="350.0" rx="38.0" ry="60.0" fill="rgb(36,42,0)"/>
<ellipse cx="396.0" cy="150.0" rx="14.0" ry="45.0" fill="rgb(36,26,0)" transform="rotate(-35 396.0 150.0)"/>
<ellipse cx="480.0" cy="290.0" rx="70.0" ry="16.0" fill="rgb(74,51,0)" transform="rotate(38 480.0 290.0)"/>
<path d="M596.0,110.0C601.0,118.7 617.0,147.7 626.0,162.0C635.0,176.3 642.5,182.8 650.0,196.0C657.5,209.2 662.7,228.0 671.0,241.0C679.3,254.0 691.5,261.2 700.0,274.0C708.5,286.8 717.0,305.2 722.0,318.0C727.0,330.8 729.2,339.8 730.0,351.0C730.8,362.2 729.7,373.5 727.0,385.0C724.3,396.5 717.8,408.8 714.0,420.0C710.2,431.2 705.7,446.7 704.0,452.0" fill="none" stroke="rgb(82,51,0)" stroke-width="34" stroke-linecap="round"/>
<ellipse cx="586.0" cy="158.0" rx="16.0" ry="30.0" fill="rgb(91,42,0)" transform="rotate(-25 586.0 158.0)"/>
</g>
<g filter="url(#blur6)">
<path d="M380.0,440.0C378.8,421.7 380.0,400.0 385.0,380.0C390.0,360.0 400.0,334.7 410.0,320.0C420.0,305.3 430.0,293.3 445.0,292.0C460.0,290.7 484.2,312.7 500.0,312.0C515.8,311.3 525.8,287.5 540.0,288.0C554.2,288.5 570.8,303.8 585.0,315.0C599.2,326.2 613.8,340.8 625.0,355.0C636.2,369.2 645.3,384.2 652.0,400.0C658.7,415.8 664.5,433.3 665.0,450.0C665.5,466.7 660.5,484.2 655.0,500.0C649.5,515.8 641.7,531.7 632.0,545.0C622.3,558.3 610.7,570.3 597.0,580.0C583.3,589.7 567.8,597.7 550.0,603.0C532.2,608.3 508.3,612.5 490.0,612.0C471.7,611.5 454.2,606.2 440.0,600.0C425.8,593.8 414.2,585.8 405.0,575.0C395.8,564.2 387.2,549.2 385.0,535.0C382.8,520.8 392.8,505.8 392.0,490.0C391.2,474.2 381.2,458.3 380.0,440.0Z" fill="rgb(42,51,0)"/>
</g>
<g filter="url(#blur7)">
<path d="M390.0,440.0C387.2,434.2 381.7,425.7 381.0,420.0C380.3,414.3 382.2,411.8 386.0,406.0C389.8,400.2 399.8,394.2 404.0,385.0C408.2,375.8 407.7,362.3 411.0,351.0C414.3,339.7 418.3,323.8 424.0,317.0C429.7,310.2 438.0,309.0 445.0,310.0C452.0,311.0 459.2,319.0 466.0,323.0C472.8,327.0 478.7,329.3 486.0,334.0C493.3,338.7 503.0,350.5 510.0,351.0C517.0,351.5 523.3,345.0 528.0,337.0C532.7,329.0 534.0,308.7 538.0,303.0C542.0,297.3 548.0,299.7 552.0,303.0C556.0,306.3 556.8,317.3 562.0,323.0C567.2,328.7 576.2,331.8 583.0,337.0C589.8,342.2 596.7,347.2 603.0,354.0C609.3,360.8 616.3,369.8 621.0,378.0C625.7,386.2 628.8,394.8 631.0,403.0C633.2,411.2 633.7,419.7 634.0,427.0C634.3,434.3 632.3,441.2 633.0,447.0C633.7,452.8 638.8,456.8 638.0,462.0C637.2,467.2 633.2,473.3 628.0,478.0C622.8,482.7 612.8,483.8 607.0,490.0C601.2,496.2 599.3,507.2 593.0,515.0C586.7,522.8 578.8,531.3 569.0,537.0C559.2,542.7 547.2,546.5 534.0,549.0C520.8,551.5 501.8,552.2 490.0,552.0C478.2,551.8 471.3,551.3 463.0,548.0C454.7,544.7 446.3,538.0 440.0,532.0C433.7,526.0 429.5,519.0 425.0,512.0C420.5,505.0 416.3,497.0 413.0,490.0C409.7,483.0 407.5,475.8 405.0,470.0C402.5,464.2 400.5,460.0 398.0,455.0C395.5,450.0 392.8,445.8 390.0,440.0Z" fill="rgb(23,17,0)"/>
</g>
<g filter="url(#blur8)">
<path d="M445.0,420.0C449.3,410.7 453.5,401.2 466.0,394.0C478.5,386.8 503.3,378.8 520.0,377.0C536.7,375.2 553.2,377.2 566.0,383.0C578.8,388.8 591.0,397.5 597.0,412.0C603.0,426.5 604.8,452.0 602.0,470.0C599.2,488.0 590.3,507.5 580.0,520.0C569.7,532.5 554.2,540.8 540.0,545.0C525.8,549.2 507.0,549.2 495.0,545.0C483.0,540.8 474.7,530.8 468.0,520.0C461.3,509.2 459.7,491.7 455.0,480.0C450.3,468.3 441.7,460.0 440.0,450.0C438.3,440.0 440.7,429.3 445.0,420.0Z" fill="rgb(11,8,0)"/>
</g>
<g filter="url(#blur9)">
</g></g></g></g></g></g></g>
<g clip-path="url(#ax2clip)"><use href="#coast"/>
<path d="M1046.5,102.9V828.1 M1192.0,102.9V828.1 M1337.5,102.9V828.1 M1483.0,102.9V828.1 M1628.5,102.9V828.1 M985.3,108.8H1710.5 M985.3,254.2H1710.5 M985.3,399.6H1710.5 M985.3,545.0H1710.5 M985.3,690.4H1710.5" fill="none" stroke="#fff" stroke-width="2.1" stroke-dasharray="2.1 3.47"/>
</g>
<rect x="983.9" y="101.5" width="728.0000000000001" height="728.0" fill="none" stroke="#000" stroke-width="2.8"/>
<text x="108.0" y="50.8" font-size="26" text-anchor="start">HIMAWARI-9 BAND14-DIAS TARGET AREA</text>
<text x="108.0" y="80.8" font-size="26" text-anchor="start">Time: 2026/03/21 03:40:00Z</text>
<text x="1711.5" y="38.9" font-size="17.4" text-anchor="end">[dmax, dmin](BAND14)=(-50.881, -95.753)</text>
<text x="1711.5" y="59.7" font-size="17.4" text-anchor="end">[dmax, dmin](AWV)=(-56.606, -91.947)</text>
<text x="1711.5" y="81.0" font-size="17.4" text-anchor="end">27P.NARELLE | 70kt, 983mb</text>
<text x="171.2" y="850.8" font-size="13.7" text-anchor="middle">134°E</text>
<text x="316.7" y="850.8" font-size="13.7" text-anchor="middle">136°E</text>
<text x="462.2" y="850.8" font-size="13.7" text-anchor="middle">138°E</text>
<text x="607.7" y="850.8" font-size="13.7" text-anchor="middle">140°E</text>
<text x="753.2" y="850.8" font-size="13.7" text-anchor="middle">142°E</text>
<text x="100.3" y="113.6" font-size="13.7" text-anchor="end">8°S</text>
<text x="100.3" y="259.0" font-size="13.7" text-anchor="end">10°S</text>
<text x="100.3" y="404.4" font-size="13.7" text-anchor="end">12°S</text>
<text x="100.3" y="549.8" font-size="13.7" text-anchor="end">14°S</text>
<text x="100.3" y="695.2" font-size="13.7" text-anchor="end">16°S</text>
<text x="1046.5" y="850.8" font-size="13.7" text-anchor="middle">134°E</text>
<text x="1192.0" y="850.8" font-size="13.7" text-anchor="middle">136°E</text>
<text x="1337.5" y="850.8" font-size="13.7" text-anchor="middle">138°E</text>
<text x="1483.0" y="850.8" font-size="13.7" text-anchor="middle">140°E</text>
<text x="1628.5" y="850.8" font-size="13.7" text-anchor="middle">142°E</text>
<text x="975.6" y="113.6" font-size="13.7" text-anchor="end">8°S</text>
<text x="975.6" y="259.0" font-size="13.7" text-anchor="end">10°S</text>
<text x="975.6" y="404.4" font-size="13.7" text-anchor="end">12°S</text>
<text x="975.6" y="549.8" font-size="13.7" text-anchor="end">14°S</text>
<text x="975.6" y="695.2" font-size="13.7" text-anchor="end">16°S</text>
<rect x="843.3" y="101.2" width="15.4" height="728.4" fill="url(#cbGray)" stroke="#000" stroke-width="1"/>
<text x="865.5" y="161.6" font-size="17.5" text-anchor="start">40</text>
<text x="865.5" y="215.5" font-size="17.5" text-anchor="start">30</text>
<text x="865.5" y="269.5" font-size="17.5" text-anchor="start">20</text>
<text x="865.5" y="323.4" font-size="17.5" text-anchor="start">10</text>
<text x="865.5" y="377.4" font-size="17.5" text-anchor="start">0</text>
<text x="865.5" y="431.3" font-size="17.5" text-anchor="start">−10</text>
<text x="865.5" y="485.3" font-size="17.5" text-anchor="start">−20</text>
<text x="865.5" y="539.2" font-size="17.5" text-anchor="start">−30</text>
<text x="865.5" y="593.2" font-size="17.5" text-anchor="start">−40</text>
<text x="865.5" y="647.2" font-size="17.5" text-anchor="start">−50</text>
<text x="865.5" y="701.1" font-size="17.5" text-anchor="start">−60</text>
<text x="865.5" y="755.1" font-size="17.5" text-anchor="start">−70</text>
<text x="865.5" y="809.0" font-size="17.5" text-anchor="start">−80</text>
<text x="852.8" y="93.4" font-size="16.7" text-anchor="start">°C</text>
<rect x="1718.4" y="101.2" width="15.4" height="728.4" fill="url(#cbCol)" stroke="#000" stroke-width="1"/>
<text x="1740.6" y="156.2" font-size="17.5" text-anchor="start">40</text>
<text x="1740.6" y="204.7" font-size="17.5" text-anchor="start">30</text>
<text x="1740.6" y="253.3" font-size="17.5" text-anchor="start">20</text>
<text x="1740.6" y="301.8" font-size="17.5" text-anchor="start">10</text>
<text x="1740.6" y="350.4" font-size="17.5" text-anchor="start">0</text>
<text x="1740.6" y="399.0" font-size="17.5" text-anchor="start">−10</text>
<text x="1740.6" y="447.5" font-size="17.5" text-anchor="start">−20</text>
<text x="1740.6" y="496.1" font-size="17.5" text-anchor="start">−30</text>
<text x="1740.6" y="544.6" font-size="17.5" text-anchor="start">−40</text>
<text x="1740.6" y="593.2" font-size="17.5" text-anchor="start">−50</text>
<text x="1740.6" y="641.8" font-size="17.5" text-anchor="start">−60</text>
<text x="1740.6" y="690.3" font-size="17.5" text-anchor="start">−70</text>
<text x="1740.6" y="738.9" font-size="17.5" text-anchor="start">−80</text>
<text x="1740.6" y="787.4" font-size="17.5" text-anchor="start">−90</text>
<text x="1728.0" y="93.2" font-size="16.7" text-anchor="start">°C</text>
<path d="M139.7,1261.1 L154.7,1261.1 L169.6,1261.1 L184.6,1261.1 L199.6,1246.3 L214.6,1246.3 L229.5,1231.5 L244.5,1231.5 L259.5,1231.5 L274.4,1201.9 L289.4,1172.4 L304.4,1142.8 L319.3,1128.0 L334.3,1113.2 L349.3,1098.5 L364.2,1068.9 L379.2,1039.3 L394.2,1009.7 L409.2,965.4 L424.1,921.0 L439.1,935.8 L454.1,950.6 L469.0,995.0 L484.0,1039.3 L499.0,1083.7 L514.0,1113.2 L528.9,1098.5" fill="none" stroke="#0000ff" stroke-width="5.2" stroke-linejoin="round" stroke-linecap="butt"/>
<path d="M529.0,1098.5 L558.0,1068.9 L618.8,1201.9 L705.4,1201.9 L718.8,1172.4 L745.4,1172.4 L777.6,1098.5 L805.4,1098.5 L824.4,1054.1" fill="none" stroke="#0000ff" stroke-width="5.2" stroke-linejoin="round" stroke-linecap="butt" stroke-dasharray="5.2 8.58"/>
<rect x="117.6" y="913.0" width="267.1" height="62.4" rx="4.2" fill="#fff" fill-opacity="0.8" stroke="#cccccc" stroke-opacity="0.8" stroke-width="2.6"/>
<path d="M123,928.3H166.2" stroke="#0000ff" stroke-width="5.2"/>
<path d="M125.3,957.5H166.2" stroke="#0000ff" stroke-width="5.2" stroke-dasharray="5.2 8.58"/>
<text x="180.0" y="935.6" font-size="18.9" text-anchor="start">Wind[max=130]</text>
<text x="180.0" y="963.6" font-size="18.9" text-anchor="start">Wind Fore.[max=85]</text>
<path d="M139.7,919.7 L154.7,919.7 L169.6,919.7 L184.6,936.9 L199.6,932.3 L214.6,936.5 L229.5,945.3 L244.5,945.3 L259.5,945.3 L274.4,945.3 L289.4,956.7 L304.4,1007.6 L319.3,1011.8 L334.3,1016.0 L349.3,1032.8 L364.2,1071.5 L379.2,1091.7 L394.2,1125.4 L409.2,1179.7 L424.1,1260.4 L439.1,1240.2 L454.1,1221.7 L469.0,1164.5 L484.0,1107.7 L499.0,1050.5 L514.0,1019.8 L528.9,1029.5" fill="none" stroke="#1f77b4" stroke-width="5.2" stroke-linejoin="round" stroke-linecap="butt"/>
<rect x="631.6" y="912.5" width="216.9" height="34.8" rx="4.2" fill="#fff" fill-opacity="0.8" stroke="#cccccc" stroke-opacity="0.8" stroke-width="2.6"/>
<path d="M636.6,928.3H677.7" stroke="#1f77b4" stroke-width="5.2"/>
<text x="692.0" y="935.6" font-size="18.9" text-anchor="start">Pres.[min=928]</text>
<path d="M139.7,1636.1 L154.7,1636.1 L169.6,1636.1 L184.6,1636.1 L199.6,1636.1 L214.6,1636.1 L229.5,1636.1 L244.5,1636.1 L259.5,1636.1 L274.4,1634.0 L289.4,1630.5 L304.4,1625.3 L319.3,1619.2 L334.3,1611.9 L349.3,1603.5 L364.2,1592.6 L379.2,1578.7 L394.2,1561.5 L409.2,1538.9 L424.1,1509.9 L439.1,1483.1 L454.1,1458.4 L469.0,1439.5 L484.0,1425.7 L499.0,1416.0 L514.0,1408.8 L528.9,1400.4" fill="none" stroke="#008000" stroke-width="5.2" stroke-linejoin="round" stroke-linecap="butt"/>
<path d="M529.0,1400.4 L548.5,1384.5 L564.3,1375.0 L577.5,1368.7 L590.7,1364.5 L603.9,1361.8 L630.3,1358.1 L656.6,1355.0 L685.7,1351.3 L712.0,1347.0 L738.4,1340.7 L764.8,1333.3 L780.6,1325.4 L801.7,1312.2 L814.9,1302.7 L824.4,1295.4" fill="none" stroke="#008000" stroke-width="5.2" stroke-linejoin="round" stroke-linecap="butt" stroke-dasharray="5.2 8.58"/>
<rect x="117.6" y="1288.2" width="312.0" height="60.7" rx="4.2" fill="#fff" fill-opacity="0.8" stroke="#cccccc" stroke-opacity="0.8" stroke-width="2.6"/>
<path d="M123,1302.9H166.2" stroke="#008000" stroke-width="5.2"/>
<path d="M125.3,1331.8H166.2" stroke="#008000" stroke-width="5.2" stroke-dasharray="5.2 8.58"/>
<text x="180.0" y="1310.4" font-size="18.9" text-anchor="start">ACE[max=13.7525]</text>
<text x="180.0" y="1338.4" font-size="18.9" text-anchor="start">ACE Fore.[max=19.8756]</text>
<rect x="108.5" y="903.6" width="749.9" height="749.9" fill="none" stroke="#000" stroke-width="2.8"/>
<path d="M108.5,1278.3H858.4" stroke="#000" stroke-width="2.8"/>
<text x="83.2" y="1251.3" font-size="13.7" text-anchor="end">20</text>
<text x="83.2" y="1192.2" font-size="13.7" text-anchor="end">40</text>
<text x="83.2" y="1133.0" font-size="13.7" text-anchor="end">60</text>
<text x="83.2" y="1073.9" font-size="13.7" text-anchor="end">80</text>
<text x="83.2" y="1014.7" font-size="13.7" text-anchor="end">100</text>
<text x="83.2" y="955.6" font-size="13.7" text-anchor="end">120</text>
<text x="83.2" y="1641.1" font-size="13.7" text-anchor="end">0.0</text>
<text x="83.2" y="1598.2" font-size="13.7" text-anchor="end">2.5</text>
<text x="83.2" y="1555.4" font-size="13.7" text-anchor="end">5.0</text>
<text x="83.2" y="1512.5" font-size="13.7" text-anchor="end">7.5</text>
<text x="83.2" y="1469.7" font-size="13.7" text-anchor="end">10.0</text>
<text x="83.2" y="1426.8" font-size="13.7" text-anchor="end">12.5</text>
<text x="83.2" y="1384.0" font-size="13.7" text-anchor="end">15.0</text>
<text x="83.2" y="1341.1" font-size="13.7" text-anchor="end">17.5</text>
<text x="83.2" y="1298.3" font-size="13.7" text-anchor="end">20.0</text>
<text x="883.6" y="1257.9" font-size="13.7" text-anchor="start">930</text>
<text x="883.6" y="1215.8" font-size="13.7" text-anchor="start">940</text>
<text x="883.6" y="1173.7" font-size="13.7" text-anchor="start">950</text>
<text x="883.6" y="1131.6" font-size="13.7" text-anchor="start">960</text>
<text x="883.6" y="1089.6" font-size="13.7" text-anchor="start">970</text>
<text x="883.6" y="1047.5" font-size="13.7" text-anchor="start">980</text>
<text x="883.6" y="1005.4" font-size="13.7" text-anchor="start">990</text>
<text x="883.6" y="963.4" font-size="13.7" text-anchor="start">1000</text>
<text x="883.6" y="921.3" font-size="13.7" text-anchor="start">1010</text>
<path d="M96.7,1246.3H107.2 M96.7,1187.2H107.2 M96.7,1128.0H107.2 M96.7,1068.9H107.2 M96.7,1009.7H107.2 M96.7,950.6H107.2 M96.7,1636.1H107.2 M96.7,1593.2H107.2 M96.7,1550.4H107.2 M96.7,1507.5H107.2 M96.7,1464.7H107.2 M96.7,1421.8H107.2 M96.7,1379.0H107.2 M96.7,1336.1H107.2 M96.7,1293.3H107.2 M859.7,1252.9H870.5 M859.7,1210.8H870.5 M859.7,1168.7H870.5 M859.7,1126.6H870.5 M859.7,1084.6H870.5 M859.7,1042.5H870.5 M859.7,1000.4H870.5 M859.7,958.4H870.5 M859.7,916.3H870.5" stroke="#000" stroke-width="2.6"/>
<text x="41.0" y="1091.0" font-size="13.7" text-anchor="middle" transform="rotate(-90 41.0 1091.0)">Wind</text>
<text x="36.0" y="1466.0" font-size="13.7" text-anchor="middle" transform="rotate(-90 36.0 1466.0)">ACE</text>
<text x="943.5" y="1091.0" font-size="13.7" text-anchor="middle" transform="rotate(-90 943.5 1091.0)">Pressure</text>
<text x="483.4" y="881.0" font-size="22.6" text-anchor="middle">Wind / Pres. / ACE Diagnosis</text>
<g clip-path="url(#gclip)">
<g transform="matrix(1 0 -0.011 1 13.420 0)" shape-rendering="crispEdges">
<rect x="976.21" y="902.40" width="751.06" height="733.62" fill="#555555"/>
<rect x="1629.04" y="1029.37" width="14.19" height="14.41" fill="#888888"/>
<rect x="976.21" y="1099.91" width="14.19" height="14.41" fill="#888888"/>
<rect x="976.21" y="1114.02" width="14.19" height="14.41" fill="#888888"/>
<rect x="976.21" y="1128.13" width="41.97" height="14.41" fill="#888888"/>
<rect x="976.21" y="1142.24" width="69.75" height="14.41" fill="#888888"/>
<rect x="976.21" y="1156.34" width="41.97" height="14.41" fill="#ffffff"/>
<rect x="1017.88" y="1156.34" width="83.64" height="14.41" fill="#888888"/>
<rect x="976.21" y="1170.45" width="28.08" height="14.41" fill="#000000"/>
<rect x="1003.99" y="1170.45" width="55.86" height="14.41" fill="#ffffff"/>
<rect x="1059.55" y="1170.45" width="69.75" height="14.41" fill="#888888"/>
<rect x="976.21" y="1184.56" width="28.08" height="14.41" fill="#000000"/>
<rect x="1003.99" y="1184.56" width="28.08" height="14.41" fill="#ffffff"/>
<rect x="1031.77" y="1184.56" width="14.19" height="14.41" fill="#888888"/>
<rect x="1045.66" y="1184.56" width="41.97" height="14.41" fill="#ffffff"/>
<rect x="1087.33" y="1184.56" width="55.86" height="14.41" fill="#888888"/>
<rect x="976.21" y="1198.67" width="41.97" height="14.41" fill="#000000"/>
<rect x="1017.88" y="1198.67" width="14.19" height="14.41" fill="#ffffff"/>
<rect x="1031.77" y="1198.67" width="14.19" height="14.41" fill="#888888"/>
<rect x="1045.66" y="1198.67" width="55.86" height="14.41" fill="#ffffff"/>
<rect x="1101.22" y="1198.67" width="55.86" height="14.41" fill="#888888"/>
<rect x="976.21" y="1212.78" width="14.19" height="14.41" fill="#888888"/>
<rect x="990.10" y="1212.78" width="14.19" height="14.41" fill="#ffffff"/>
<rect x="1003.99" y="1212.78" width="14.19" height="14.41" fill="#000000"/>
<rect x="1017.88" y="1212.78" width="111.42" height="14.41" fill="#ffffff"/>
<rect x="1129.00" y="1212.78" width="28.08" height="14.41" fill="#888888"/>
<rect x="990.10" y="1226.88" width="41.97" height="14.41" fill="#888888"/>
<rect x="1031.77" y="1226.88" width="111.42" height="14.41" fill="#ffffff"/>
<rect x="1142.89" y="1226.88" width="28.08" height="14.41" fill="#888888"/>
<rect x="1031.77" y="1240.99" width="14.19" height="14.41" fill="#888888"/>
<rect x="1045.66" y="1240.99" width="97.53" height="14.41" fill="#ffffff"/>
<rect x="1142.89" y="1240.99" width="41.97" height="14.41" fill="#888888"/>
<rect x="1031.77" y="1255.10" width="55.86" height="14.41" fill="#888888"/>
<rect x="1087.33" y="1255.10" width="69.75" height="14.41" fill="#ffffff"/>
<rect x="1156.78" y="1255.10" width="55.86" height="14.41" fill="#888888"/>
<rect x="1017.88" y="1269.21" width="55.86" height="14.41" fill="#888888"/>
<rect x="1073.44" y="1269.21" width="111.42" height="14.41" fill="#ffffff"/>
<rect x="1184.56" y="1269.21" width="41.97" height="14.41" fill="#888888"/>
<rect x="976.21" y="1283.32" width="97.53" height="14.41" fill="#888888"/>
<rect x="1073.44" y="1283.32" width="125.31" height="14.41" fill="#ffffff"/>
<rect x="1198.45" y="1283.32" width="28.08" height="14.41" fill="#888888"/>
<rect x="976.21" y="1297.42" width="28.08" height="14.41" fill="#888888"/>
<rect x="1003.99" y="1297.42" width="208.65" height="14.41" fill="#ffffff"/>
<rect x="1212.34" y="1297.42" width="41.97" height="14.41" fill="#888888"/>
<rect x="976.21" y="1311.53" width="264.21" height="14.41" fill="#ffffff"/>
<rect x="1240.12" y="1311.53" width="28.08" height="14.41" fill="#888888"/>
<rect x="976.21" y="1325.64" width="28.08" height="14.41" fill="#ffffff"/>
<rect x="1003.99" y="1325.64" width="41.97" height="14.41" fill="#000000"/>
<rect x="1045.66" y="1325.64" width="180.87" height="14.41" fill="#ffffff"/>
<rect x="1226.23" y="1325.64" width="41.97" height="14.41" fill="#888888"/>
<rect x="976.21" y="1339.75" width="97.53" height="14.41" fill="#000000"/>
<rect x="1073.44" y="1339.75" width="153.09" height="14.41" fill="#ffffff"/>
<rect x="1226.23" y="1339.75" width="55.86" height="14.41" fill="#888888"/>
<rect x="976.21" y="1353.86" width="208.65" height="14.41" fill="#000000"/>
<rect x="1184.56" y="1353.86" width="41.97" height="14.41" fill="#ffffff"/>
<rect x="1226.23" y="1353.86" width="55.86" height="14.41" fill="#888888"/>
<rect x="976.21" y="1367.96" width="69.75" height="14.41" fill="#000000"/>
<rect x="1045.66" y="1367.96" width="83.64" height="14.41" fill="#a0a0a0"/>
<rect x="1129.00" y="1367.96" width="55.86" height="14.41" fill="#000000"/>
<rect x="1184.56" y="1367.96" width="41.97" height="14.41" fill="#ffffff"/>
<rect x="1226.23" y="1367.96" width="41.97" height="14.41" fill="#888888"/>
<rect x="976.21" y="1382.07" width="14.19" height="14.41" fill="#000000"/>
<rect x="990.10" y="1382.07" width="139.20" height="14.41" fill="#a0a0a0"/>
<rect x="1129.00" y="1382.07" width="41.97" height="14.41" fill="#000000"/>
<rect x="1170.67" y="1382.07" width="41.97" height="14.41" fill="#ffffff"/>
<rect x="1212.34" y="1382.07" width="55.86" height="14.41" fill="#888888"/>
<rect x="976.21" y="1396.18" width="139.20" height="14.41" fill="#a0a0a0"/>
<rect x="1115.11" y="1396.18" width="41.97" height="14.41" fill="#000000"/>
<rect x="1156.78" y="1396.18" width="55.86" height="14.41" fill="#ffffff"/>
<rect x="1212.34" y="1396.18" width="55.86" height="14.41" fill="#888888"/>
<rect x="976.21" y="1410.29" width="14.19" height="14.41" fill="#000000"/>
<rect x="990.10" y="1410.29" width="125.31" height="14.41" fill="#a0a0a0"/>
<rect x="1115.11" y="1410.29" width="28.08" height="14.41" fill="#000000"/>
<rect x="1142.89" y="1410.29" width="55.86" height="14.41" fill="#ffffff"/>
<rect x="1198.45" y="1410.29" width="69.75" height="14.41" fill="#888888"/>
<rect x="976.21" y="1424.40" width="14.19" height="14.41" fill="#000000"/>
<rect x="990.10" y="1424.40" width="69.75" height="14.41" fill="#a0a0a0"/>
<rect x="1059.55" y="1424.40" width="28.08" height="14.41" fill="#6e6e6e"/>
<rect x="1087.33" y="1424.40" width="55.86" height="14.41" fill="#a0a0a0"/>
<rect x="1142.89" y="1424.40" width="28.08" height="14.41" fill="#000000"/>
<rect x="1170.67" y="1424.40" width="28.08" height="14.41" fill="#ffffff"/>
<rect x="1198.45" y="1424.40" width="83.64" height="14.41" fill="#888888"/>
<rect x="976.21" y="1438.50" width="83.64" height="14.41" fill="#a0a0a0"/>
<rect x="1059.55" y="1438.50" width="83.64" height="14.41" fill="#6e6e6e"/>
<rect x="1142.89" y="1438.50" width="28.08" height="14.41" fill="#a0a0a0"/>
<rect x="1170.67" y="1438.50" width="14.19" height="14.41" fill="#000000"/>
<rect x="1184.56" y="1438.50" width="28.08" height="14.41" fill="#ffffff"/>
<rect x="1212.34" y="1438.50" width="83.64" height="14.41" fill="#888888"/>
<rect x="976.21" y="1452.61" width="125.31" height="14.41" fill="#a0a0a0"/>
<rect x="1101.22" y="1452.61" width="41.97" height="14.41" fill="#6e6e6e"/>
<rect x="1142.89" y="1452.61" width="41.97" height="14.41" fill="#a0a0a0"/>
<rect x="1184.56" y="1452.61" width="14.19" height="14.41" fill="#000000"/>
<rect x="1198.45" y="1452.61" width="28.08" height="14.41" fill="#ffffff"/>
<rect x="1226.23" y="1452.61" width="83.64" height="14.41" fill="#888888"/>
<rect x="976.21" y="1466.72" width="139.20" height="14.41" fill="#a0a0a0"/>
<rect x="1115.11" y="1466.72" width="41.97" height="14.41" fill="#6e6e6e"/>
<rect x="1156.78" y="1466.72" width="41.97" height="14.41" fill="#a0a0a0"/>
<rect x="1198.45" y="1466.72" width="14.19" height="14.41" fill="#000000"/>
<rect x="1212.34" y="1466.72" width="41.97" height="14.41" fill="#ffffff"/>
<rect x="1254.01" y="1466.72" width="69.75" height="14.41" fill="#888888"/>
<rect x="976.21" y="1480.83" width="222.54" height="14.41" fill="#a0a0a0"/>
<rect x="1198.45" y="1480.83" width="28.08" height="14.41" fill="#000000"/>
<rect x="1226.23" y="1480.83" width="41.97" height="14.41" fill="#ffffff"/>
<rect x="1267.90" y="1480.83" width="69.75" height="14.41" fill="#888888"/>
<rect x="976.21" y="1494.94" width="222.54" height="14.41" fill="#a0a0a0"/>
<rect x="1198.45" y="1494.94" width="41.97" height="14.41" fill="#000000"/>
<rect x="1240.12" y="1494.94" width="55.86" height="14.41" fill="#ffffff"/>
<rect x="1295.68" y="1494.94" width="41.97" height="14.41" fill="#888888"/>
<rect x="976.21" y="1509.04" width="111.42" height="14.41" fill="#a0a0a0"/>
<rect x="1087.33" y="1509.04" width="41.97" height="14.41" fill="#000000"/>
<rect x="1129.00" y="1509.04" width="69.75" height="14.41" fill="#a0a0a0"/>
<rect x="1198.45" y="1509.04" width="55.86" height="14.41" fill="#000000"/>
<rect x="1254.01" y="1509.04" width="55.86" height="14.41" fill="#ffffff"/>
<rect x="1309.57" y="1509.04" width="41.97" height="14.41" fill="#888888"/>
<rect x="976.21" y="1523.15" width="111.42" height="14.41" fill="#a0a0a0"/>
<rect x="1087.33" y="1523.15" width="55.86" height="14.41" fill="#000000"/>
<rect x="1142.89" y="1523.15" width="41.97" height="14.41" fill="#a0a0a0"/>
<rect x="1184.56" y="1523.15" width="55.86" height="14.41" fill="#000000"/>
<rect x="1240.12" y="1523.15" width="69.75" height="14.41" fill="#ffffff"/>
<rect x="1309.57" y="1523.15" width="41.97" height="14.41" fill="#888888"/>
<rect x="976.21" y="1537.26" width="83.64" height="14.41" fill="#a0a0a0"/>
<rect x="1059.55" y="1537.26" width="166.98" height="14.41" fill="#000000"/>
<rect x="1226.23" y="1537.26" width="83.64" height="14.41" fill="#ffffff"/>
<rect x="1309.57" y="1537.26" width="41.97" height="14.41" fill="#888888"/>
<rect x="976.21" y="1551.37" width="69.75" height="14.41" fill="#a0a0a0"/>
<rect x="1045.66" y="1551.37" width="139.20" height="14.41" fill="#000000"/>
<rect x="1184.56" y="1551.37" width="14.19" height="14.41" fill="#ffffff"/>
<rect x="1198.45" y="1551.37" width="28.08" height="14.41" fill="#000000"/>
<rect x="1226.23" y="1551.37" width="83.64" height="14.41" fill="#ffffff"/>
<rect x="1309.57" y="1551.37" width="28.08" height="14.41" fill="#888888"/>
<rect x="976.21" y="1565.48" width="55.86" height="14.41" fill="#a0a0a0"/>
<rect x="1031.77" y="1565.48" width="139.20" height="14.41" fill="#000000"/>
<rect x="1170.67" y="1565.48" width="139.20" height="14.41" fill="#ffffff"/>
<rect x="1309.57" y="1565.48" width="28.08" height="14.41" fill="#888888"/>
<rect x="976.21" y="1579.58" width="55.86" height="14.41" fill="#a0a0a0"/>
<rect x="1031.77" y="1579.58" width="166.98" height="14.41" fill="#000000"/>
<rect x="1198.45" y="1579.58" width="111.42" height="14.41" fill="#ffffff"/>
<rect x="1309.57" y="1579.58" width="28.08" height="14.41" fill="#888888"/>
<rect x="976.21" y="1593.69" width="55.86" height="14.41" fill="#a0a0a0"/>
<rect x="1031.77" y="1593.69" width="180.87" height="14.41" fill="#000000"/>
<rect x="1212.34" y="1593.69" width="97.53" height="14.41" fill="#ffffff"/>
<rect x="1309.57" y="1593.69" width="41.97" height="14.41" fill="#888888"/>
<rect x="976.21" y="1607.80" width="55.86" height="14.41" fill="#a0a0a0"/>
<rect x="1031.77" y="1607.80" width="208.65" height="14.41" fill="#000000"/>
<rect x="1240.12" y="1607.80" width="55.86" height="14.41" fill="#ffffff"/>
<rect x="1295.68" y="1607.80" width="55.86" height="14.41" fill="#888888"/>
<rect x="976.21" y="1621.91" width="41.97" height="14.41" fill="#a0a0a0"/>
<rect x="1017.88" y="1621.91" width="222.54" height="14.41" fill="#000000"/>
<rect x="1240.12" y="1621.91" width="55.86" height="14.41" fill="#ffffff"/>
<rect x="1295.68" y="1621.91" width="55.86" height="14.41" fill="#888888"/>
</g></g>
<rect x="983.5" y="903.6" width="750.0" height="749.9" fill="none" stroke="#000" stroke-width="2.8"/>
<rect x="995.4" y="916.6" width="180.2" height="32.3" rx="4.2" fill="#000"/>
<text x="1003.0" y="938.3" font-size="20.6" text-anchor="start" font-weight="bold" fill="#fff">WMG Count: 0</text>
</svg></body></html>
